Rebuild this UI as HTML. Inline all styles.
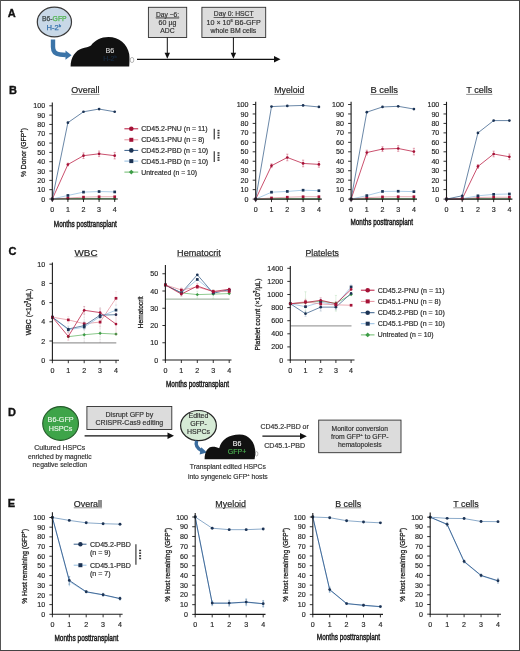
<!DOCTYPE html><html><head><meta charset="utf-8"><style>html,body{margin:0;padding:0;background:#fff;}svg{display:block;will-change:transform;}text{font-family:"Liberation Sans", sans-serif;}</style></head><body>
<svg width="520" height="651" viewBox="0 0 520 651">
<rect x="0" y="0" width="520" height="651" fill="#fff"/>
<text x="7.80" y="17.30" font-size="11" fill="#111" font-weight="bold" stroke="#111" stroke-width="0.35">A</text>
<ellipse cx="54.4" cy="22" rx="17.1" ry="14.8" fill="#c8d8e7" stroke="#3a3a3a" stroke-width="1.2"/>
<text x="54.30" y="21.30" font-size="7.6" fill="#2a2a2a" text-anchor="middle" textLength="24.6" lengthAdjust="spacingAndGlyphs" stroke-width="0.25"><tspan fill="#3c4646" stroke="#3c4646">B6-</tspan><tspan fill="#4fb34f" stroke="#4fb34f">GFP</tspan></text>
<text x="53.80" y="29.70" font-size="7.6" fill="#3572ad" text-anchor="middle" stroke="#3572ad" stroke-width="0.25">H-2<tspan font-size="4.4" dy="-3.2">b</tspan></text>
<path d="M53 39.5 L53 47 Q53 54 60 54.5 L66 55" fill="none" stroke="#3b74a8" stroke-width="4.4"/>
<path d="M65.5 50.5 L71.5 55.2 L65.5 59.8 Z" fill="#3b74a8"/>
<path d="M70.6 66.6 C70.6 57.5 75.5 50.5 82 48.6 C85.5 47.6 88.5 47.2 91 45.6 C95 40 101 37 108.5 37 C119 37 127.5 44 129.2 54 C129.7 58 129.5 62 129.2 66.6 Z" fill="#111"/>
<ellipse cx="132" cy="60" rx="1.8" ry="2.6" fill="none" stroke="#888" stroke-width="0.6"/>
<text x="109.80" y="52.60" font-size="7.2" fill="#d0d0d0" stroke="#d0d0d0" stroke-width="0.18" text-anchor="middle" >B6</text>
<text x="110.00" y="61.40" font-size="7" fill="#172a40" stroke="#172a40" stroke-width="0.18" text-anchor="middle" >H-2<tspan font-size="4" dy="-3">b</tspan></text>
<line x1="137.00" y1="59.30" x2="276.00" y2="59.30" stroke="#111" stroke-width="1.2" />
<path d="M274 56 L280.5 59.3 L274 62.6 Z" fill="#111"/>
<rect x="148.4" y="7.3" width="38.3" height="30.2" fill="#dcdcdc" stroke="#2e2e2e" stroke-width="0.9"/>
<text x="167.50" y="16.60" font-size="6.9" fill="#333" stroke="#333" stroke-width="0.18" text-anchor="middle" textLength="23.1" lengthAdjust="spacingAndGlyphs" text-decoration="underline">Day −6:</text>
<text x="167.50" y="25.10" font-size="7.2" fill="#333" stroke="#333" stroke-width="0.18" text-anchor="middle" textLength="17.8" lengthAdjust="spacingAndGlyphs" >60 µg</text>
<text x="167.50" y="33.10" font-size="7.2" fill="#333" stroke="#333" stroke-width="0.18" text-anchor="middle" textLength="14.4" lengthAdjust="spacingAndGlyphs" >ADC</text>
<line x1="167.30" y1="37.50" x2="167.30" y2="54.00" stroke="#111" stroke-width="1" />
<path d="M164.6 52.8 L167.3 58.8 L170 52.8 Z" fill="#111"/>
<rect x="201.9" y="7.3" width="63.8" height="30.2" fill="#dcdcdc" stroke="#2e2e2e" stroke-width="0.9"/>
<text x="233.70" y="16.10" font-size="6.8" fill="#333" stroke="#333" stroke-width="0.18" text-anchor="middle" textLength="39.8" lengthAdjust="spacingAndGlyphs" text-decoration="underline">Day 0: HSCT</text>
<text x="233.60" y="24.90" font-size="7.0" fill="#333" stroke="#333" stroke-width="0.18" text-anchor="middle" textLength="54.2" lengthAdjust="spacingAndGlyphs" >10 × 10<tspan font-size="4" dy="-2.8">6</tspan><tspan dy="2.8"> B6-GFP</tspan></text>
<text x="233.40" y="33.30" font-size="6.6" fill="#333" stroke="#333" stroke-width="0.18" text-anchor="middle" textLength="45.7" lengthAdjust="spacingAndGlyphs" >whole BM cells</text>
<line x1="233.40" y1="37.50" x2="233.40" y2="54.00" stroke="#111" stroke-width="1" />
<path d="M230.7 52.8 L233.4 58.8 L236.1 52.8 Z" fill="#111"/>
<text x="9.00" y="93.80" font-size="11" fill="#111" font-weight="bold" stroke="#111" stroke-width="0.35">B</text>
<text x="85.40" y="93.30" font-size="9.2" fill="#222" stroke="#222" stroke-width="0.18" text-anchor="middle" textLength="28.3" lengthAdjust="spacingAndGlyphs" >Overall</text>
<line x1="71.25" y1="94.40" x2="99.55" y2="94.40" stroke="#444" stroke-width="0.6" />
<polyline points="52.30,199.00 67.90,198.72 83.50,198.72 99.10,198.72 114.70,198.72" fill="none" stroke="#6dbb6d" stroke-width="1.0" stroke-linejoin="round" />
<path d="M52.30 197.31L53.99 199.00L52.30 200.69L50.61 199.00Z" fill="#3d9c46"/>
<path d="M67.90 197.03L69.59 198.72L67.90 200.41L66.21 198.72Z" fill="#3d9c46"/>
<path d="M83.50 197.03L85.19 198.72L83.50 200.41L81.81 198.72Z" fill="#3d9c46"/>
<path d="M99.10 197.03L100.79 198.72L99.10 200.41L97.41 198.72Z" fill="#3d9c46"/>
<path d="M114.70 197.03L116.39 198.72L114.70 200.41L113.01 198.72Z" fill="#3d9c46"/>
<polyline points="52.30,199.00 67.90,198.07 83.50,197.14 99.10,196.76 114.70,196.76" fill="none" stroke="#e3909c" stroke-width="0.75" stroke-linejoin="round" />
<rect x="50.95" y="197.65" width="2.70" height="2.70" fill="#a51237"/>
<rect x="66.55" y="196.72" width="2.70" height="2.70" fill="#a51237"/>
<rect x="82.15" y="195.79" width="2.70" height="2.70" fill="#a51237"/>
<rect x="97.75" y="195.41" width="2.70" height="2.70" fill="#a51237"/>
<rect x="113.35" y="195.41" width="2.70" height="2.70" fill="#a51237"/>
<polyline points="52.30,199.00 67.90,195.46 83.50,192.10 99.10,191.54 114.70,191.92" fill="none" stroke="#93bde0" stroke-width="0.75" stroke-linejoin="round" />
<rect x="50.95" y="197.65" width="2.70" height="2.70" fill="#1c3354"/>
<rect x="66.55" y="194.11" width="2.70" height="2.70" fill="#1c3354"/>
<rect x="82.15" y="190.75" width="2.70" height="2.70" fill="#1c3354"/>
<rect x="97.75" y="190.19" width="2.70" height="2.70" fill="#1c3354"/>
<rect x="113.35" y="190.57" width="2.70" height="2.70" fill="#1c3354"/>
<line x1="67.90" y1="163.12" x2="67.90" y2="165.91" stroke="#b8173d" stroke-width="0.6" stroke-opacity="0.6"/>
<line x1="66.80" y1="163.12" x2="69.00" y2="163.12" stroke="#b8173d" stroke-width="0.6" stroke-opacity="0.6"/>
<line x1="66.80" y1="165.91" x2="69.00" y2="165.91" stroke="#b8173d" stroke-width="0.6" stroke-opacity="0.6"/>
<line x1="83.50" y1="152.87" x2="83.50" y2="158.46" stroke="#b8173d" stroke-width="0.6" stroke-opacity="0.6"/>
<line x1="82.40" y1="152.87" x2="84.60" y2="152.87" stroke="#b8173d" stroke-width="0.6" stroke-opacity="0.6"/>
<line x1="82.40" y1="158.46" x2="84.60" y2="158.46" stroke="#b8173d" stroke-width="0.6" stroke-opacity="0.6"/>
<line x1="99.10" y1="151.00" x2="99.10" y2="156.59" stroke="#b8173d" stroke-width="0.6" stroke-opacity="0.6"/>
<line x1="98.00" y1="151.00" x2="100.20" y2="151.00" stroke="#b8173d" stroke-width="0.6" stroke-opacity="0.6"/>
<line x1="98.00" y1="156.59" x2="100.20" y2="156.59" stroke="#b8173d" stroke-width="0.6" stroke-opacity="0.6"/>
<line x1="114.70" y1="152.40" x2="114.70" y2="158.92" stroke="#b8173d" stroke-width="0.6" stroke-opacity="0.6"/>
<line x1="113.60" y1="152.40" x2="115.80" y2="152.40" stroke="#b8173d" stroke-width="0.6" stroke-opacity="0.6"/>
<line x1="113.60" y1="158.92" x2="115.80" y2="158.92" stroke="#b8173d" stroke-width="0.6" stroke-opacity="0.6"/>
<polyline points="52.30,199.00 67.90,164.52 83.50,155.66 99.10,153.80 114.70,155.66" fill="none" stroke="#b8173d" stroke-width="0.75" stroke-linejoin="round" />
<circle cx="52.30" cy="199.00" r="1.35" fill="#a51237"/>
<circle cx="67.90" cy="164.52" r="1.35" fill="#a51237"/>
<circle cx="83.50" cy="155.66" r="1.35" fill="#a51237"/>
<circle cx="99.10" cy="153.80" r="1.35" fill="#a51237"/>
<circle cx="114.70" cy="155.66" r="1.35" fill="#a51237"/>
<polyline points="52.30,199.00 67.90,122.67 83.50,111.76 99.10,109.06 114.70,111.76" fill="none" stroke="#385f8a" stroke-width="0.75" stroke-linejoin="round" />
<circle cx="52.30" cy="199.00" r="1.35" fill="#1c3354"/>
<circle cx="67.90" cy="122.67" r="1.35" fill="#1c3354"/>
<circle cx="83.50" cy="111.76" r="1.35" fill="#1c3354"/>
<circle cx="99.10" cy="109.06" r="1.35" fill="#1c3354"/>
<circle cx="114.70" cy="111.76" r="1.35" fill="#1c3354"/>
<line x1="49.30" y1="199.00" x2="52.30" y2="199.00" stroke="#1c1c1c" stroke-width="0.9" />
<text x="45.10" y="201.56" font-size="7.1" fill="#2a2a2a" stroke="#2a2a2a" stroke-width="0.18" text-anchor="end" >0</text>
<line x1="49.30" y1="189.68" x2="52.30" y2="189.68" stroke="#1c1c1c" stroke-width="0.9" />
<text x="45.10" y="192.24" font-size="7.1" fill="#2a2a2a" stroke="#2a2a2a" stroke-width="0.18" text-anchor="end" >10</text>
<line x1="49.30" y1="180.36" x2="52.30" y2="180.36" stroke="#1c1c1c" stroke-width="0.9" />
<text x="45.10" y="182.92" font-size="7.1" fill="#2a2a2a" stroke="#2a2a2a" stroke-width="0.18" text-anchor="end" >20</text>
<line x1="49.30" y1="171.04" x2="52.30" y2="171.04" stroke="#1c1c1c" stroke-width="0.9" />
<text x="45.10" y="173.60" font-size="7.1" fill="#2a2a2a" stroke="#2a2a2a" stroke-width="0.18" text-anchor="end" >30</text>
<line x1="49.30" y1="161.72" x2="52.30" y2="161.72" stroke="#1c1c1c" stroke-width="0.9" />
<text x="45.10" y="164.28" font-size="7.1" fill="#2a2a2a" stroke="#2a2a2a" stroke-width="0.18" text-anchor="end" >40</text>
<line x1="49.30" y1="152.40" x2="52.30" y2="152.40" stroke="#1c1c1c" stroke-width="0.9" />
<text x="45.10" y="154.96" font-size="7.1" fill="#2a2a2a" stroke="#2a2a2a" stroke-width="0.18" text-anchor="end" >50</text>
<line x1="49.30" y1="143.08" x2="52.30" y2="143.08" stroke="#1c1c1c" stroke-width="0.9" />
<text x="45.10" y="145.64" font-size="7.1" fill="#2a2a2a" stroke="#2a2a2a" stroke-width="0.18" text-anchor="end" >60</text>
<line x1="49.30" y1="133.76" x2="52.30" y2="133.76" stroke="#1c1c1c" stroke-width="0.9" />
<text x="45.10" y="136.32" font-size="7.1" fill="#2a2a2a" stroke="#2a2a2a" stroke-width="0.18" text-anchor="end" >70</text>
<line x1="49.30" y1="124.44" x2="52.30" y2="124.44" stroke="#1c1c1c" stroke-width="0.9" />
<text x="45.10" y="127.00" font-size="7.1" fill="#2a2a2a" stroke="#2a2a2a" stroke-width="0.18" text-anchor="end" >80</text>
<line x1="49.30" y1="115.12" x2="52.30" y2="115.12" stroke="#1c1c1c" stroke-width="0.9" />
<text x="45.10" y="117.68" font-size="7.1" fill="#2a2a2a" stroke="#2a2a2a" stroke-width="0.18" text-anchor="end" >90</text>
<line x1="49.30" y1="105.80" x2="52.30" y2="105.80" stroke="#1c1c1c" stroke-width="0.9" />
<text x="45.10" y="108.36" font-size="7.1" fill="#2a2a2a" stroke="#2a2a2a" stroke-width="0.18" text-anchor="end" >100</text>
<line x1="52.30" y1="199.00" x2="52.30" y2="202.00" stroke="#1c1c1c" stroke-width="0.9" />
<text x="52.30" y="212.30" font-size="7.1" fill="#2a2a2a" stroke="#2a2a2a" stroke-width="0.18" text-anchor="middle" >0</text>
<line x1="67.90" y1="199.00" x2="67.90" y2="202.00" stroke="#1c1c1c" stroke-width="0.9" />
<text x="67.90" y="212.30" font-size="7.1" fill="#2a2a2a" stroke="#2a2a2a" stroke-width="0.18" text-anchor="middle" >1</text>
<line x1="83.50" y1="199.00" x2="83.50" y2="202.00" stroke="#1c1c1c" stroke-width="0.9" />
<text x="83.50" y="212.30" font-size="7.1" fill="#2a2a2a" stroke="#2a2a2a" stroke-width="0.18" text-anchor="middle" >2</text>
<line x1="99.10" y1="199.00" x2="99.10" y2="202.00" stroke="#1c1c1c" stroke-width="0.9" />
<text x="99.10" y="212.30" font-size="7.1" fill="#2a2a2a" stroke="#2a2a2a" stroke-width="0.18" text-anchor="middle" >3</text>
<line x1="114.70" y1="199.00" x2="114.70" y2="202.00" stroke="#1c1c1c" stroke-width="0.9" />
<text x="114.70" y="212.30" font-size="7.1" fill="#2a2a2a" stroke="#2a2a2a" stroke-width="0.18" text-anchor="middle" >4</text>
<line x1="52.30" y1="102.60" x2="52.30" y2="199.50" stroke="#1c1c1c" stroke-width="1.1" />
<line x1="51.80" y1="199.00" x2="117.80" y2="199.00" stroke="#1c1c1c" stroke-width="1.1" />
<text x="25.80" y="152.50" font-size="7.9" fill="#1e1e1e" text-anchor="middle" textLength="49" lengthAdjust="spacingAndGlyphs" transform="rotate(-90 25.80 152.50)" stroke="#1e1e1e" stroke-width="0.3">% Donor (GFP<tspan font-size="5" dy="-3">+</tspan><tspan dy="3">)</tspan></text>
<text x="85.30" y="226.70" font-size="9.5" fill="#1e1e1e" text-anchor="middle" textLength="63" lengthAdjust="spacingAndGlyphs" stroke="#1e1e1e" stroke-width="0.5">Months posttransplant</text>
<line x1="124.40" y1="128.80" x2="138.20" y2="128.80" stroke="#b8173d" stroke-width="1.0" />
<circle cx="131.30" cy="128.80" r="2.3" fill="#a51237"/>
<text x="141.20" y="131.30" font-size="7.0" fill="#2a2a2a" stroke="#2a2a2a" stroke-width="0.18" textLength="66.4" lengthAdjust="spacingAndGlyphs" >CD45.2-PNU (n = 11)</text>
<line x1="124.40" y1="139.80" x2="138.20" y2="139.80" stroke="#e3909c" stroke-width="1.0" />
<rect x="129.30" y="137.80" width="4.00" height="4.00" fill="#a51237"/>
<text x="141.20" y="142.30" font-size="7.0" fill="#2a2a2a" stroke="#2a2a2a" stroke-width="0.18" textLength="63.2" lengthAdjust="spacingAndGlyphs" >CD45.1-PNU (n = 8)</text>
<line x1="124.40" y1="150.40" x2="138.20" y2="150.40" stroke="#385f8a" stroke-width="1.0" />
<circle cx="131.30" cy="150.40" r="2.3" fill="#1c3354"/>
<text x="141.20" y="152.90" font-size="7.0" fill="#2a2a2a" stroke="#2a2a2a" stroke-width="0.18" textLength="67.0" lengthAdjust="spacingAndGlyphs" >CD45.2-PBD (n = 10)</text>
<line x1="124.40" y1="161.10" x2="138.20" y2="161.10" stroke="#93bde0" stroke-width="1.0" />
<rect x="129.30" y="159.10" width="4.00" height="4.00" fill="#1c3354"/>
<text x="141.20" y="163.60" font-size="7.0" fill="#2a2a2a" stroke="#2a2a2a" stroke-width="0.18" textLength="67.0" lengthAdjust="spacingAndGlyphs" >CD45.1-PBD (n = 10)</text>
<line x1="124.40" y1="172.10" x2="138.20" y2="172.10" stroke="#6dbb6d" stroke-width="1.0" />
<path d="M131.30 169.72L133.68 172.10L131.30 174.47L128.93 172.10Z" fill="#3d9c46"/>
<text x="141.20" y="174.60" font-size="7.0" fill="#2a2a2a" stroke="#2a2a2a" stroke-width="0.18" textLength="55.8" lengthAdjust="spacingAndGlyphs" >Untreated (n = 10)</text>
<line x1="214.30" y1="128.80" x2="214.30" y2="139.60" stroke="#555" stroke-width="1.4" />
<rect x="217.50" y="129.85" width="2.0" height="1.5" fill="#333"/>
<rect x="217.50" y="132.25" width="2.0" height="1.5" fill="#333"/>
<rect x="217.50" y="134.65" width="2.0" height="1.5" fill="#333"/>
<rect x="217.50" y="137.05" width="2.0" height="1.5" fill="#333"/>
<line x1="214.30" y1="151.20" x2="214.30" y2="161.90" stroke="#555" stroke-width="1.4" />
<rect x="217.50" y="152.20" width="2.0" height="1.5" fill="#333"/>
<rect x="217.50" y="154.60" width="2.0" height="1.5" fill="#333"/>
<rect x="217.50" y="157.00" width="2.0" height="1.5" fill="#333"/>
<rect x="217.50" y="159.40" width="2.0" height="1.5" fill="#333"/>
<text x="289.30" y="93.30" font-size="9.2" fill="#222" stroke="#222" stroke-width="0.18" text-anchor="middle" textLength="30.1" lengthAdjust="spacingAndGlyphs" >Myeloid</text>
<line x1="274.25" y1="94.40" x2="304.35" y2="94.40" stroke="#444" stroke-width="0.6" />
<polyline points="255.70,199.10 271.50,198.82 287.30,198.82 303.10,198.82 318.90,198.82" fill="none" stroke="#6dbb6d" stroke-width="1.0" stroke-linejoin="round" />
<path d="M255.70 197.41L257.39 199.10L255.70 200.79L254.01 199.10Z" fill="#3d9c46"/>
<path d="M271.50 197.13L273.19 198.82L271.50 200.50L269.81 198.82Z" fill="#3d9c46"/>
<path d="M287.30 197.13L288.99 198.82L287.30 200.50L285.61 198.82Z" fill="#3d9c46"/>
<path d="M303.10 197.13L304.79 198.82L303.10 200.50L301.41 198.82Z" fill="#3d9c46"/>
<path d="M318.90 197.13L320.59 198.82L318.90 200.50L317.21 198.82Z" fill="#3d9c46"/>
<polyline points="255.70,199.10 271.50,197.96 287.30,197.21 303.10,196.73 318.90,196.73" fill="none" stroke="#e3909c" stroke-width="0.75" stroke-linejoin="round" />
<rect x="254.35" y="197.75" width="2.70" height="2.70" fill="#a51237"/>
<rect x="270.15" y="196.61" width="2.70" height="2.70" fill="#a51237"/>
<rect x="285.95" y="195.86" width="2.70" height="2.70" fill="#a51237"/>
<rect x="301.75" y="195.38" width="2.70" height="2.70" fill="#a51237"/>
<rect x="317.55" y="195.38" width="2.70" height="2.70" fill="#a51237"/>
<polyline points="255.70,199.10 271.50,192.19 287.30,191.44 303.10,190.21 318.90,190.68" fill="none" stroke="#93bde0" stroke-width="0.75" stroke-linejoin="round" />
<rect x="254.35" y="197.75" width="2.70" height="2.70" fill="#1c3354"/>
<rect x="270.15" y="190.84" width="2.70" height="2.70" fill="#1c3354"/>
<rect x="285.95" y="190.09" width="2.70" height="2.70" fill="#1c3354"/>
<rect x="301.75" y="188.86" width="2.70" height="2.70" fill="#1c3354"/>
<rect x="317.55" y="189.33" width="2.70" height="2.70" fill="#1c3354"/>
<line x1="271.50" y1="163.81" x2="271.50" y2="167.60" stroke="#b8173d" stroke-width="0.6" stroke-opacity="0.6"/>
<line x1="270.40" y1="163.81" x2="272.60" y2="163.81" stroke="#b8173d" stroke-width="0.6" stroke-opacity="0.6"/>
<line x1="270.40" y1="167.60" x2="272.60" y2="167.60" stroke="#b8173d" stroke-width="0.6" stroke-opacity="0.6"/>
<line x1="287.30" y1="154.16" x2="287.30" y2="160.79" stroke="#b8173d" stroke-width="0.6" stroke-opacity="0.6"/>
<line x1="286.20" y1="154.16" x2="288.40" y2="154.16" stroke="#b8173d" stroke-width="0.6" stroke-opacity="0.6"/>
<line x1="286.20" y1="160.79" x2="288.40" y2="160.79" stroke="#b8173d" stroke-width="0.6" stroke-opacity="0.6"/>
<line x1="303.10" y1="160.12" x2="303.10" y2="166.75" stroke="#b8173d" stroke-width="0.6" stroke-opacity="0.6"/>
<line x1="302.00" y1="160.12" x2="304.20" y2="160.12" stroke="#b8173d" stroke-width="0.6" stroke-opacity="0.6"/>
<line x1="302.00" y1="166.75" x2="304.20" y2="166.75" stroke="#b8173d" stroke-width="0.6" stroke-opacity="0.6"/>
<line x1="318.90" y1="161.54" x2="318.90" y2="167.22" stroke="#b8173d" stroke-width="0.6" stroke-opacity="0.6"/>
<line x1="317.80" y1="161.54" x2="320.00" y2="161.54" stroke="#b8173d" stroke-width="0.6" stroke-opacity="0.6"/>
<line x1="317.80" y1="167.22" x2="320.00" y2="167.22" stroke="#b8173d" stroke-width="0.6" stroke-opacity="0.6"/>
<polyline points="255.70,199.10 271.50,165.71 287.30,157.48 303.10,163.44 318.90,164.38" fill="none" stroke="#b8173d" stroke-width="0.75" stroke-linejoin="round" />
<circle cx="255.70" cy="199.10" r="1.35" fill="#a51237"/>
<circle cx="271.50" cy="165.71" r="1.35" fill="#a51237"/>
<circle cx="287.30" cy="157.48" r="1.35" fill="#a51237"/>
<circle cx="303.10" cy="163.44" r="1.35" fill="#a51237"/>
<circle cx="318.90" cy="164.38" r="1.35" fill="#a51237"/>
<polyline points="255.70,199.10 271.50,106.58 287.30,105.92 303.10,105.45 318.90,106.96" fill="none" stroke="#385f8a" stroke-width="0.75" stroke-linejoin="round" />
<circle cx="255.70" cy="199.10" r="1.35" fill="#1c3354"/>
<circle cx="271.50" cy="106.58" r="1.35" fill="#1c3354"/>
<circle cx="287.30" cy="105.92" r="1.35" fill="#1c3354"/>
<circle cx="303.10" cy="105.45" r="1.35" fill="#1c3354"/>
<circle cx="318.90" cy="106.96" r="1.35" fill="#1c3354"/>
<line x1="252.70" y1="199.10" x2="255.70" y2="199.10" stroke="#1c1c1c" stroke-width="0.9" />
<text x="248.50" y="201.66" font-size="7.1" fill="#2a2a2a" stroke="#2a2a2a" stroke-width="0.18" text-anchor="end" >0</text>
<line x1="252.70" y1="189.64" x2="255.70" y2="189.64" stroke="#1c1c1c" stroke-width="0.9" />
<text x="248.50" y="192.20" font-size="7.1" fill="#2a2a2a" stroke="#2a2a2a" stroke-width="0.18" text-anchor="end" >10</text>
<line x1="252.70" y1="180.18" x2="255.70" y2="180.18" stroke="#1c1c1c" stroke-width="0.9" />
<text x="248.50" y="182.74" font-size="7.1" fill="#2a2a2a" stroke="#2a2a2a" stroke-width="0.18" text-anchor="end" >20</text>
<line x1="252.70" y1="170.72" x2="255.70" y2="170.72" stroke="#1c1c1c" stroke-width="0.9" />
<text x="248.50" y="173.28" font-size="7.1" fill="#2a2a2a" stroke="#2a2a2a" stroke-width="0.18" text-anchor="end" >30</text>
<line x1="252.70" y1="161.26" x2="255.70" y2="161.26" stroke="#1c1c1c" stroke-width="0.9" />
<text x="248.50" y="163.82" font-size="7.1" fill="#2a2a2a" stroke="#2a2a2a" stroke-width="0.18" text-anchor="end" >40</text>
<line x1="252.70" y1="151.80" x2="255.70" y2="151.80" stroke="#1c1c1c" stroke-width="0.9" />
<text x="248.50" y="154.36" font-size="7.1" fill="#2a2a2a" stroke="#2a2a2a" stroke-width="0.18" text-anchor="end" >50</text>
<line x1="252.70" y1="142.34" x2="255.70" y2="142.34" stroke="#1c1c1c" stroke-width="0.9" />
<text x="248.50" y="144.90" font-size="7.1" fill="#2a2a2a" stroke="#2a2a2a" stroke-width="0.18" text-anchor="end" >60</text>
<line x1="252.70" y1="132.88" x2="255.70" y2="132.88" stroke="#1c1c1c" stroke-width="0.9" />
<text x="248.50" y="135.44" font-size="7.1" fill="#2a2a2a" stroke="#2a2a2a" stroke-width="0.18" text-anchor="end" >70</text>
<line x1="252.70" y1="123.42" x2="255.70" y2="123.42" stroke="#1c1c1c" stroke-width="0.9" />
<text x="248.50" y="125.98" font-size="7.1" fill="#2a2a2a" stroke="#2a2a2a" stroke-width="0.18" text-anchor="end" >80</text>
<line x1="252.70" y1="113.96" x2="255.70" y2="113.96" stroke="#1c1c1c" stroke-width="0.9" />
<text x="248.50" y="116.52" font-size="7.1" fill="#2a2a2a" stroke="#2a2a2a" stroke-width="0.18" text-anchor="end" >90</text>
<line x1="252.70" y1="104.50" x2="255.70" y2="104.50" stroke="#1c1c1c" stroke-width="0.9" />
<text x="248.50" y="107.06" font-size="7.1" fill="#2a2a2a" stroke="#2a2a2a" stroke-width="0.18" text-anchor="end" >100</text>
<line x1="255.70" y1="199.10" x2="255.70" y2="202.10" stroke="#1c1c1c" stroke-width="0.9" />
<text x="255.70" y="212.30" font-size="7.1" fill="#2a2a2a" stroke="#2a2a2a" stroke-width="0.18" text-anchor="middle" >0</text>
<line x1="271.50" y1="199.10" x2="271.50" y2="202.10" stroke="#1c1c1c" stroke-width="0.9" />
<text x="271.50" y="212.30" font-size="7.1" fill="#2a2a2a" stroke="#2a2a2a" stroke-width="0.18" text-anchor="middle" >1</text>
<line x1="287.30" y1="199.10" x2="287.30" y2="202.10" stroke="#1c1c1c" stroke-width="0.9" />
<text x="287.30" y="212.30" font-size="7.1" fill="#2a2a2a" stroke="#2a2a2a" stroke-width="0.18" text-anchor="middle" >2</text>
<line x1="303.10" y1="199.10" x2="303.10" y2="202.10" stroke="#1c1c1c" stroke-width="0.9" />
<text x="303.10" y="212.30" font-size="7.1" fill="#2a2a2a" stroke="#2a2a2a" stroke-width="0.18" text-anchor="middle" >3</text>
<line x1="318.90" y1="199.10" x2="318.90" y2="202.10" stroke="#1c1c1c" stroke-width="0.9" />
<text x="318.90" y="212.30" font-size="7.1" fill="#2a2a2a" stroke="#2a2a2a" stroke-width="0.18" text-anchor="middle" >4</text>
<line x1="255.70" y1="101.80" x2="255.70" y2="199.60" stroke="#1c1c1c" stroke-width="1.1" />
<line x1="255.20" y1="199.10" x2="321.80" y2="199.10" stroke="#1c1c1c" stroke-width="1.1" />
<text x="384.20" y="93.30" font-size="9.2" fill="#222" stroke="#222" stroke-width="0.18" text-anchor="middle" textLength="27.6" lengthAdjust="spacingAndGlyphs" >B cells</text>
<line x1="370.40" y1="94.40" x2="398.00" y2="94.40" stroke="#444" stroke-width="0.6" />
<polyline points="351.10,199.10 366.80,198.82 382.50,198.82 398.20,198.82 413.90,198.82" fill="none" stroke="#6dbb6d" stroke-width="1.0" stroke-linejoin="round" />
<path d="M351.10 197.41L352.79 199.10L351.10 200.79L349.41 199.10Z" fill="#3d9c46"/>
<path d="M366.80 197.13L368.49 198.82L366.80 200.50L365.11 198.82Z" fill="#3d9c46"/>
<path d="M382.50 197.13L384.19 198.82L382.50 200.50L380.81 198.82Z" fill="#3d9c46"/>
<path d="M398.20 197.13L399.89 198.82L398.20 200.50L396.51 198.82Z" fill="#3d9c46"/>
<path d="M413.90 197.13L415.59 198.82L413.90 200.50L412.21 198.82Z" fill="#3d9c46"/>
<polyline points="351.10,199.10 366.80,197.68 382.50,196.92 398.20,196.73 413.90,196.73" fill="none" stroke="#e3909c" stroke-width="0.75" stroke-linejoin="round" />
<rect x="349.75" y="197.75" width="2.70" height="2.70" fill="#a51237"/>
<rect x="365.45" y="196.33" width="2.70" height="2.70" fill="#a51237"/>
<rect x="381.15" y="195.57" width="2.70" height="2.70" fill="#a51237"/>
<rect x="396.85" y="195.38" width="2.70" height="2.70" fill="#a51237"/>
<rect x="412.55" y="195.38" width="2.70" height="2.70" fill="#a51237"/>
<polyline points="351.10,199.10 366.80,195.60 382.50,191.44 398.20,191.25 413.90,191.63" fill="none" stroke="#93bde0" stroke-width="0.75" stroke-linejoin="round" />
<rect x="349.75" y="197.75" width="2.70" height="2.70" fill="#1c3354"/>
<rect x="365.45" y="194.25" width="2.70" height="2.70" fill="#1c3354"/>
<rect x="381.15" y="190.09" width="2.70" height="2.70" fill="#1c3354"/>
<rect x="396.85" y="189.90" width="2.70" height="2.70" fill="#1c3354"/>
<rect x="412.55" y="190.28" width="2.70" height="2.70" fill="#1c3354"/>
<line x1="366.80" y1="150.19" x2="366.80" y2="154.92" stroke="#b8173d" stroke-width="0.6" stroke-opacity="0.6"/>
<line x1="365.70" y1="150.19" x2="367.90" y2="150.19" stroke="#b8173d" stroke-width="0.6" stroke-opacity="0.6"/>
<line x1="365.70" y1="154.92" x2="367.90" y2="154.92" stroke="#b8173d" stroke-width="0.6" stroke-opacity="0.6"/>
<line x1="382.50" y1="146.69" x2="382.50" y2="151.42" stroke="#b8173d" stroke-width="0.6" stroke-opacity="0.6"/>
<line x1="381.40" y1="146.69" x2="383.60" y2="146.69" stroke="#b8173d" stroke-width="0.6" stroke-opacity="0.6"/>
<line x1="381.40" y1="151.42" x2="383.60" y2="151.42" stroke="#b8173d" stroke-width="0.6" stroke-opacity="0.6"/>
<line x1="398.20" y1="145.65" x2="398.20" y2="151.33" stroke="#b8173d" stroke-width="0.6" stroke-opacity="0.6"/>
<line x1="397.10" y1="145.65" x2="399.30" y2="145.65" stroke="#b8173d" stroke-width="0.6" stroke-opacity="0.6"/>
<line x1="397.10" y1="151.33" x2="399.30" y2="151.33" stroke="#b8173d" stroke-width="0.6" stroke-opacity="0.6"/>
<line x1="413.90" y1="148.30" x2="413.90" y2="154.92" stroke="#b8173d" stroke-width="0.6" stroke-opacity="0.6"/>
<line x1="412.80" y1="148.30" x2="415.00" y2="148.30" stroke="#b8173d" stroke-width="0.6" stroke-opacity="0.6"/>
<line x1="412.80" y1="154.92" x2="415.00" y2="154.92" stroke="#b8173d" stroke-width="0.6" stroke-opacity="0.6"/>
<polyline points="351.10,199.10 366.80,152.56 382.50,149.06 398.20,148.49 413.90,151.61" fill="none" stroke="#b8173d" stroke-width="0.75" stroke-linejoin="round" />
<circle cx="351.10" cy="199.10" r="1.35" fill="#a51237"/>
<circle cx="366.80" cy="152.56" r="1.35" fill="#a51237"/>
<circle cx="382.50" cy="149.06" r="1.35" fill="#a51237"/>
<circle cx="398.20" cy="148.49" r="1.35" fill="#a51237"/>
<circle cx="413.90" cy="151.61" r="1.35" fill="#a51237"/>
<polyline points="351.10,199.10 366.80,112.16 382.50,106.96 398.20,106.30 413.90,109.04" fill="none" stroke="#385f8a" stroke-width="0.75" stroke-linejoin="round" />
<circle cx="351.10" cy="199.10" r="1.35" fill="#1c3354"/>
<circle cx="366.80" cy="112.16" r="1.35" fill="#1c3354"/>
<circle cx="382.50" cy="106.96" r="1.35" fill="#1c3354"/>
<circle cx="398.20" cy="106.30" r="1.35" fill="#1c3354"/>
<circle cx="413.90" cy="109.04" r="1.35" fill="#1c3354"/>
<line x1="348.10" y1="199.10" x2="351.10" y2="199.10" stroke="#1c1c1c" stroke-width="0.9" />
<text x="343.90" y="201.66" font-size="7.1" fill="#2a2a2a" stroke="#2a2a2a" stroke-width="0.18" text-anchor="end" >0</text>
<line x1="348.10" y1="189.64" x2="351.10" y2="189.64" stroke="#1c1c1c" stroke-width="0.9" />
<text x="343.90" y="192.20" font-size="7.1" fill="#2a2a2a" stroke="#2a2a2a" stroke-width="0.18" text-anchor="end" >10</text>
<line x1="348.10" y1="180.18" x2="351.10" y2="180.18" stroke="#1c1c1c" stroke-width="0.9" />
<text x="343.90" y="182.74" font-size="7.1" fill="#2a2a2a" stroke="#2a2a2a" stroke-width="0.18" text-anchor="end" >20</text>
<line x1="348.10" y1="170.72" x2="351.10" y2="170.72" stroke="#1c1c1c" stroke-width="0.9" />
<text x="343.90" y="173.28" font-size="7.1" fill="#2a2a2a" stroke="#2a2a2a" stroke-width="0.18" text-anchor="end" >30</text>
<line x1="348.10" y1="161.26" x2="351.10" y2="161.26" stroke="#1c1c1c" stroke-width="0.9" />
<text x="343.90" y="163.82" font-size="7.1" fill="#2a2a2a" stroke="#2a2a2a" stroke-width="0.18" text-anchor="end" >40</text>
<line x1="348.10" y1="151.80" x2="351.10" y2="151.80" stroke="#1c1c1c" stroke-width="0.9" />
<text x="343.90" y="154.36" font-size="7.1" fill="#2a2a2a" stroke="#2a2a2a" stroke-width="0.18" text-anchor="end" >50</text>
<line x1="348.10" y1="142.34" x2="351.10" y2="142.34" stroke="#1c1c1c" stroke-width="0.9" />
<text x="343.90" y="144.90" font-size="7.1" fill="#2a2a2a" stroke="#2a2a2a" stroke-width="0.18" text-anchor="end" >60</text>
<line x1="348.10" y1="132.88" x2="351.10" y2="132.88" stroke="#1c1c1c" stroke-width="0.9" />
<text x="343.90" y="135.44" font-size="7.1" fill="#2a2a2a" stroke="#2a2a2a" stroke-width="0.18" text-anchor="end" >70</text>
<line x1="348.10" y1="123.42" x2="351.10" y2="123.42" stroke="#1c1c1c" stroke-width="0.9" />
<text x="343.90" y="125.98" font-size="7.1" fill="#2a2a2a" stroke="#2a2a2a" stroke-width="0.18" text-anchor="end" >80</text>
<line x1="348.10" y1="113.96" x2="351.10" y2="113.96" stroke="#1c1c1c" stroke-width="0.9" />
<text x="343.90" y="116.52" font-size="7.1" fill="#2a2a2a" stroke="#2a2a2a" stroke-width="0.18" text-anchor="end" >90</text>
<line x1="348.10" y1="104.50" x2="351.10" y2="104.50" stroke="#1c1c1c" stroke-width="0.9" />
<text x="343.90" y="107.06" font-size="7.1" fill="#2a2a2a" stroke="#2a2a2a" stroke-width="0.18" text-anchor="end" >100</text>
<line x1="351.10" y1="199.10" x2="351.10" y2="202.10" stroke="#1c1c1c" stroke-width="0.9" />
<text x="351.10" y="212.30" font-size="7.1" fill="#2a2a2a" stroke="#2a2a2a" stroke-width="0.18" text-anchor="middle" >0</text>
<line x1="366.80" y1="199.10" x2="366.80" y2="202.10" stroke="#1c1c1c" stroke-width="0.9" />
<text x="366.80" y="212.30" font-size="7.1" fill="#2a2a2a" stroke="#2a2a2a" stroke-width="0.18" text-anchor="middle" >1</text>
<line x1="382.50" y1="199.10" x2="382.50" y2="202.10" stroke="#1c1c1c" stroke-width="0.9" />
<text x="382.50" y="212.30" font-size="7.1" fill="#2a2a2a" stroke="#2a2a2a" stroke-width="0.18" text-anchor="middle" >2</text>
<line x1="398.20" y1="199.10" x2="398.20" y2="202.10" stroke="#1c1c1c" stroke-width="0.9" />
<text x="398.20" y="212.30" font-size="7.1" fill="#2a2a2a" stroke="#2a2a2a" stroke-width="0.18" text-anchor="middle" >3</text>
<line x1="413.90" y1="199.10" x2="413.90" y2="202.10" stroke="#1c1c1c" stroke-width="0.9" />
<text x="413.90" y="212.30" font-size="7.1" fill="#2a2a2a" stroke="#2a2a2a" stroke-width="0.18" text-anchor="middle" >4</text>
<line x1="351.10" y1="101.80" x2="351.10" y2="199.60" stroke="#1c1c1c" stroke-width="1.1" />
<line x1="350.60" y1="199.10" x2="417.00" y2="199.10" stroke="#1c1c1c" stroke-width="1.1" />
<text x="381.80" y="225.00" font-size="9.5" fill="#1e1e1e" text-anchor="middle" textLength="62.6" lengthAdjust="spacingAndGlyphs" stroke="#1e1e1e" stroke-width="0.5">Months posttransplant</text>
<text x="479.30" y="93.30" font-size="9.2" fill="#222" stroke="#222" stroke-width="0.18" text-anchor="middle" textLength="26.2" lengthAdjust="spacingAndGlyphs" >T cells</text>
<line x1="466.20" y1="94.40" x2="492.40" y2="94.40" stroke="#444" stroke-width="0.6" />
<polyline points="446.50,199.10 462.22,198.82 477.94,198.82 493.66,198.82 509.38,198.82" fill="none" stroke="#6dbb6d" stroke-width="1.0" stroke-linejoin="round" />
<path d="M446.50 197.41L448.19 199.10L446.50 200.79L444.81 199.10Z" fill="#3d9c46"/>
<path d="M462.22 197.13L463.91 198.82L462.22 200.50L460.53 198.82Z" fill="#3d9c46"/>
<path d="M477.94 197.13L479.63 198.82L477.94 200.50L476.25 198.82Z" fill="#3d9c46"/>
<path d="M493.66 197.13L495.35 198.82L493.66 200.50L491.97 198.82Z" fill="#3d9c46"/>
<path d="M509.38 197.13L511.07 198.82L509.38 200.50L507.69 198.82Z" fill="#3d9c46"/>
<polyline points="446.50,199.10 462.22,198.91 477.94,197.49 493.66,197.21 509.38,197.21" fill="none" stroke="#e3909c" stroke-width="0.75" stroke-linejoin="round" />
<rect x="445.15" y="197.75" width="2.70" height="2.70" fill="#a51237"/>
<rect x="460.87" y="197.56" width="2.70" height="2.70" fill="#a51237"/>
<rect x="476.59" y="196.14" width="2.70" height="2.70" fill="#a51237"/>
<rect x="492.31" y="195.86" width="2.70" height="2.70" fill="#a51237"/>
<rect x="508.03" y="195.86" width="2.70" height="2.70" fill="#a51237"/>
<polyline points="446.50,199.10 462.22,198.63 477.94,195.79 493.66,194.37 509.38,193.99" fill="none" stroke="#93bde0" stroke-width="0.75" stroke-linejoin="round" />
<rect x="445.15" y="197.75" width="2.70" height="2.70" fill="#1c3354"/>
<rect x="460.87" y="197.28" width="2.70" height="2.70" fill="#1c3354"/>
<rect x="476.59" y="194.44" width="2.70" height="2.70" fill="#1c3354"/>
<rect x="492.31" y="193.02" width="2.70" height="2.70" fill="#1c3354"/>
<rect x="508.03" y="192.64" width="2.70" height="2.70" fill="#1c3354"/>
<line x1="477.94" y1="164.57" x2="477.94" y2="168.35" stroke="#b8173d" stroke-width="0.6" stroke-opacity="0.6"/>
<line x1="476.84" y1="164.57" x2="479.04" y2="164.57" stroke="#b8173d" stroke-width="0.6" stroke-opacity="0.6"/>
<line x1="476.84" y1="168.35" x2="479.04" y2="168.35" stroke="#b8173d" stroke-width="0.6" stroke-opacity="0.6"/>
<line x1="493.66" y1="151.14" x2="493.66" y2="156.81" stroke="#b8173d" stroke-width="0.6" stroke-opacity="0.6"/>
<line x1="492.56" y1="151.14" x2="494.76" y2="151.14" stroke="#b8173d" stroke-width="0.6" stroke-opacity="0.6"/>
<line x1="492.56" y1="156.81" x2="494.76" y2="156.81" stroke="#b8173d" stroke-width="0.6" stroke-opacity="0.6"/>
<line x1="509.38" y1="153.98" x2="509.38" y2="159.65" stroke="#b8173d" stroke-width="0.6" stroke-opacity="0.6"/>
<line x1="508.28" y1="153.98" x2="510.48" y2="153.98" stroke="#b8173d" stroke-width="0.6" stroke-opacity="0.6"/>
<line x1="508.28" y1="159.65" x2="510.48" y2="159.65" stroke="#b8173d" stroke-width="0.6" stroke-opacity="0.6"/>
<polyline points="446.50,199.10 462.22,198.82 477.94,166.46 493.66,153.98 509.38,156.81" fill="none" stroke="#b8173d" stroke-width="0.75" stroke-linejoin="round" />
<circle cx="446.50" cy="199.10" r="1.35" fill="#a51237"/>
<circle cx="462.22" cy="198.82" r="1.35" fill="#a51237"/>
<circle cx="477.94" cy="166.46" r="1.35" fill="#a51237"/>
<circle cx="493.66" cy="153.98" r="1.35" fill="#a51237"/>
<circle cx="509.38" cy="156.81" r="1.35" fill="#a51237"/>
<polyline points="446.50,199.10 462.22,195.79 477.94,132.88 493.66,120.58 509.38,120.58" fill="none" stroke="#385f8a" stroke-width="0.75" stroke-linejoin="round" />
<circle cx="446.50" cy="199.10" r="1.35" fill="#1c3354"/>
<circle cx="462.22" cy="195.79" r="1.35" fill="#1c3354"/>
<circle cx="477.94" cy="132.88" r="1.35" fill="#1c3354"/>
<circle cx="493.66" cy="120.58" r="1.35" fill="#1c3354"/>
<circle cx="509.38" cy="120.58" r="1.35" fill="#1c3354"/>
<line x1="443.50" y1="199.10" x2="446.50" y2="199.10" stroke="#1c1c1c" stroke-width="0.9" />
<text x="439.30" y="201.66" font-size="7.1" fill="#2a2a2a" stroke="#2a2a2a" stroke-width="0.18" text-anchor="end" >0</text>
<line x1="443.50" y1="189.64" x2="446.50" y2="189.64" stroke="#1c1c1c" stroke-width="0.9" />
<text x="439.30" y="192.20" font-size="7.1" fill="#2a2a2a" stroke="#2a2a2a" stroke-width="0.18" text-anchor="end" >10</text>
<line x1="443.50" y1="180.18" x2="446.50" y2="180.18" stroke="#1c1c1c" stroke-width="0.9" />
<text x="439.30" y="182.74" font-size="7.1" fill="#2a2a2a" stroke="#2a2a2a" stroke-width="0.18" text-anchor="end" >20</text>
<line x1="443.50" y1="170.72" x2="446.50" y2="170.72" stroke="#1c1c1c" stroke-width="0.9" />
<text x="439.30" y="173.28" font-size="7.1" fill="#2a2a2a" stroke="#2a2a2a" stroke-width="0.18" text-anchor="end" >30</text>
<line x1="443.50" y1="161.26" x2="446.50" y2="161.26" stroke="#1c1c1c" stroke-width="0.9" />
<text x="439.30" y="163.82" font-size="7.1" fill="#2a2a2a" stroke="#2a2a2a" stroke-width="0.18" text-anchor="end" >40</text>
<line x1="443.50" y1="151.80" x2="446.50" y2="151.80" stroke="#1c1c1c" stroke-width="0.9" />
<text x="439.30" y="154.36" font-size="7.1" fill="#2a2a2a" stroke="#2a2a2a" stroke-width="0.18" text-anchor="end" >50</text>
<line x1="443.50" y1="142.34" x2="446.50" y2="142.34" stroke="#1c1c1c" stroke-width="0.9" />
<text x="439.30" y="144.90" font-size="7.1" fill="#2a2a2a" stroke="#2a2a2a" stroke-width="0.18" text-anchor="end" >60</text>
<line x1="443.50" y1="132.88" x2="446.50" y2="132.88" stroke="#1c1c1c" stroke-width="0.9" />
<text x="439.30" y="135.44" font-size="7.1" fill="#2a2a2a" stroke="#2a2a2a" stroke-width="0.18" text-anchor="end" >70</text>
<line x1="443.50" y1="123.42" x2="446.50" y2="123.42" stroke="#1c1c1c" stroke-width="0.9" />
<text x="439.30" y="125.98" font-size="7.1" fill="#2a2a2a" stroke="#2a2a2a" stroke-width="0.18" text-anchor="end" >80</text>
<line x1="443.50" y1="113.96" x2="446.50" y2="113.96" stroke="#1c1c1c" stroke-width="0.9" />
<text x="439.30" y="116.52" font-size="7.1" fill="#2a2a2a" stroke="#2a2a2a" stroke-width="0.18" text-anchor="end" >90</text>
<line x1="443.50" y1="104.50" x2="446.50" y2="104.50" stroke="#1c1c1c" stroke-width="0.9" />
<text x="439.30" y="107.06" font-size="7.1" fill="#2a2a2a" stroke="#2a2a2a" stroke-width="0.18" text-anchor="end" >100</text>
<line x1="446.50" y1="199.10" x2="446.50" y2="202.10" stroke="#1c1c1c" stroke-width="0.9" />
<text x="446.50" y="212.30" font-size="7.1" fill="#2a2a2a" stroke="#2a2a2a" stroke-width="0.18" text-anchor="middle" >0</text>
<line x1="462.22" y1="199.10" x2="462.22" y2="202.10" stroke="#1c1c1c" stroke-width="0.9" />
<text x="462.22" y="212.30" font-size="7.1" fill="#2a2a2a" stroke="#2a2a2a" stroke-width="0.18" text-anchor="middle" >1</text>
<line x1="477.94" y1="199.10" x2="477.94" y2="202.10" stroke="#1c1c1c" stroke-width="0.9" />
<text x="477.94" y="212.30" font-size="7.1" fill="#2a2a2a" stroke="#2a2a2a" stroke-width="0.18" text-anchor="middle" >2</text>
<line x1="493.66" y1="199.10" x2="493.66" y2="202.10" stroke="#1c1c1c" stroke-width="0.9" />
<text x="493.66" y="212.30" font-size="7.1" fill="#2a2a2a" stroke="#2a2a2a" stroke-width="0.18" text-anchor="middle" >3</text>
<line x1="509.38" y1="199.10" x2="509.38" y2="202.10" stroke="#1c1c1c" stroke-width="0.9" />
<text x="509.38" y="212.30" font-size="7.1" fill="#2a2a2a" stroke="#2a2a2a" stroke-width="0.18" text-anchor="middle" >4</text>
<line x1="446.50" y1="101.80" x2="446.50" y2="199.60" stroke="#1c1c1c" stroke-width="1.1" />
<line x1="446.00" y1="199.10" x2="512.40" y2="199.10" stroke="#1c1c1c" stroke-width="1.1" />
<text x="8.50" y="255.00" font-size="11" fill="#111" font-weight="bold" stroke="#111" stroke-width="0.35">C</text>
<text x="86.00" y="255.60" font-size="9.2" fill="#222" stroke="#222" stroke-width="0.18" text-anchor="middle" textLength="23.0" lengthAdjust="spacingAndGlyphs" >WBC</text>
<line x1="74.50" y1="256.70" x2="97.50" y2="256.70" stroke="#444" stroke-width="0.6" />
<line x1="52.40" y1="342.90" x2="116.30" y2="342.90" stroke="#9a9a9a" stroke-width="1.2" />
<line x1="84.20" y1="306.00" x2="84.20" y2="343.00" stroke="#6a5a60" stroke-width="0.6" stroke-opacity="0.45" stroke-dasharray="1 0.6"/>
<line x1="100.10" y1="307.00" x2="100.10" y2="343.00" stroke="#6a5a60" stroke-width="0.6" stroke-opacity="0.45" stroke-dasharray="1 0.6"/>
<polyline points="68.30,336.68 84.20,334.76 100.10,333.32 116.00,334.09" fill="none" stroke="#6dbb6d" stroke-width="0.8" stroke-linejoin="round" />
<path d="M68.30 334.99L69.99 336.68L68.30 338.37L66.61 336.68Z" fill="#3d9c46"/>
<path d="M84.20 333.07L85.89 334.76L84.20 336.45L82.51 334.76Z" fill="#3d9c46"/>
<path d="M100.10 331.63L101.79 333.32L100.10 335.01L98.41 333.32Z" fill="#3d9c46"/>
<path d="M116.00 332.40L117.69 334.09L116.00 335.78L114.31 334.09Z" fill="#3d9c46"/>
<line x1="68.30" y1="316.52" x2="68.30" y2="323.24" stroke="#e3909c" stroke-width="0.6" stroke-opacity="0.3"/>
<line x1="67.20" y1="316.52" x2="69.40" y2="316.52" stroke="#e3909c" stroke-width="0.6" stroke-opacity="0.3"/>
<line x1="67.20" y1="323.24" x2="69.40" y2="323.24" stroke="#e3909c" stroke-width="0.6" stroke-opacity="0.3"/>
<line x1="100.10" y1="317.29" x2="100.10" y2="326.89" stroke="#e3909c" stroke-width="0.6" stroke-opacity="0.3"/>
<line x1="99.00" y1="317.29" x2="101.20" y2="317.29" stroke="#e3909c" stroke-width="0.6" stroke-opacity="0.3"/>
<line x1="99.00" y1="326.89" x2="101.20" y2="326.89" stroke="#e3909c" stroke-width="0.6" stroke-opacity="0.3"/>
<line x1="116.00" y1="291.56" x2="116.00" y2="305.00" stroke="#e3909c" stroke-width="0.6" stroke-opacity="0.3"/>
<line x1="114.90" y1="291.56" x2="117.10" y2="291.56" stroke="#e3909c" stroke-width="0.6" stroke-opacity="0.3"/>
<line x1="114.90" y1="305.00" x2="117.10" y2="305.00" stroke="#e3909c" stroke-width="0.6" stroke-opacity="0.3"/>
<polyline points="52.40,317.19 68.30,319.88 84.20,323.72 100.10,322.09 116.00,298.28" fill="none" stroke="#e3909c" stroke-width="0.75" stroke-linejoin="round" />
<rect x="51.05" y="315.84" width="2.70" height="2.70" fill="#a51237"/>
<rect x="66.95" y="318.53" width="2.70" height="2.70" fill="#a51237"/>
<rect x="82.85" y="322.37" width="2.70" height="2.70" fill="#a51237"/>
<rect x="98.75" y="320.74" width="2.70" height="2.70" fill="#a51237"/>
<rect x="114.65" y="296.93" width="2.70" height="2.70" fill="#a51237"/>
<line x1="116.00" y1="305.29" x2="116.00" y2="314.89" stroke="#93bde0" stroke-width="0.6" stroke-opacity="0.3"/>
<line x1="114.90" y1="305.29" x2="117.10" y2="305.29" stroke="#93bde0" stroke-width="0.6" stroke-opacity="0.3"/>
<line x1="114.90" y1="314.89" x2="117.10" y2="314.89" stroke="#93bde0" stroke-width="0.6" stroke-opacity="0.3"/>
<polyline points="52.40,317.19 68.30,329.77 84.20,327.08 100.10,316.71 116.00,310.09" fill="none" stroke="#93bde0" stroke-width="0.75" stroke-linejoin="round" />
<rect x="51.05" y="315.84" width="2.70" height="2.70" fill="#1c3354"/>
<rect x="66.95" y="328.42" width="2.70" height="2.70" fill="#1c3354"/>
<rect x="82.85" y="325.73" width="2.70" height="2.70" fill="#1c3354"/>
<rect x="98.75" y="315.36" width="2.70" height="2.70" fill="#1c3354"/>
<rect x="114.65" y="308.74" width="2.70" height="2.70" fill="#1c3354"/>
<line x1="68.30" y1="326.12" x2="68.30" y2="331.88" stroke="#385f8a" stroke-width="0.6" stroke-opacity="0.3"/>
<line x1="67.20" y1="326.12" x2="69.40" y2="326.12" stroke="#385f8a" stroke-width="0.6" stroke-opacity="0.3"/>
<line x1="67.20" y1="331.88" x2="69.40" y2="331.88" stroke="#385f8a" stroke-width="0.6" stroke-opacity="0.3"/>
<line x1="84.20" y1="321.80" x2="84.20" y2="329.48" stroke="#385f8a" stroke-width="0.6" stroke-opacity="0.3"/>
<line x1="83.10" y1="321.80" x2="85.30" y2="321.80" stroke="#385f8a" stroke-width="0.6" stroke-opacity="0.3"/>
<line x1="83.10" y1="329.48" x2="85.30" y2="329.48" stroke="#385f8a" stroke-width="0.6" stroke-opacity="0.3"/>
<line x1="100.10" y1="312.30" x2="100.10" y2="318.06" stroke="#385f8a" stroke-width="0.6" stroke-opacity="0.3"/>
<line x1="99.00" y1="312.30" x2="101.20" y2="312.30" stroke="#385f8a" stroke-width="0.6" stroke-opacity="0.3"/>
<line x1="99.00" y1="318.06" x2="101.20" y2="318.06" stroke="#385f8a" stroke-width="0.6" stroke-opacity="0.3"/>
<polyline points="52.40,317.19 68.30,329.00 84.20,325.64 100.10,315.18 116.00,314.70" fill="none" stroke="#385f8a" stroke-width="0.75" stroke-linejoin="round" />
<circle cx="52.40" cy="317.19" r="1.35" fill="#1c3354"/>
<circle cx="68.30" cy="329.00" r="1.35" fill="#1c3354"/>
<circle cx="84.20" cy="325.64" r="1.35" fill="#1c3354"/>
<circle cx="100.10" cy="315.18" r="1.35" fill="#1c3354"/>
<circle cx="116.00" cy="314.70" r="1.35" fill="#1c3354"/>
<line x1="68.30" y1="332.55" x2="68.30" y2="340.23" stroke="#b8173d" stroke-width="0.6" stroke-opacity="0.3"/>
<line x1="67.20" y1="332.55" x2="69.40" y2="332.55" stroke="#b8173d" stroke-width="0.6" stroke-opacity="0.3"/>
<line x1="67.20" y1="340.23" x2="69.40" y2="340.23" stroke="#b8173d" stroke-width="0.6" stroke-opacity="0.3"/>
<line x1="84.20" y1="306.44" x2="84.20" y2="314.12" stroke="#b8173d" stroke-width="0.6" stroke-opacity="0.3"/>
<line x1="83.10" y1="306.44" x2="85.30" y2="306.44" stroke="#b8173d" stroke-width="0.6" stroke-opacity="0.3"/>
<line x1="83.10" y1="314.12" x2="85.30" y2="314.12" stroke="#b8173d" stroke-width="0.6" stroke-opacity="0.3"/>
<line x1="100.10" y1="308.74" x2="100.10" y2="316.42" stroke="#b8173d" stroke-width="0.6" stroke-opacity="0.3"/>
<line x1="99.00" y1="308.74" x2="101.20" y2="308.74" stroke="#b8173d" stroke-width="0.6" stroke-opacity="0.3"/>
<line x1="99.00" y1="316.42" x2="101.20" y2="316.42" stroke="#b8173d" stroke-width="0.6" stroke-opacity="0.3"/>
<line x1="116.00" y1="313.54" x2="116.00" y2="334.66" stroke="#b8173d" stroke-width="0.6" stroke-opacity="0.3"/>
<line x1="114.90" y1="313.54" x2="117.10" y2="313.54" stroke="#b8173d" stroke-width="0.6" stroke-opacity="0.3"/>
<line x1="114.90" y1="334.66" x2="117.10" y2="334.66" stroke="#b8173d" stroke-width="0.6" stroke-opacity="0.3"/>
<polyline points="52.40,317.19 68.30,336.39 84.20,310.28 100.10,312.58 116.00,324.10" fill="none" stroke="#b8173d" stroke-width="0.75" stroke-linejoin="round" />
<circle cx="52.40" cy="317.19" r="1.35" fill="#a51237"/>
<circle cx="68.30" cy="336.39" r="1.35" fill="#a51237"/>
<circle cx="84.20" cy="310.28" r="1.35" fill="#a51237"/>
<circle cx="100.10" cy="312.58" r="1.35" fill="#a51237"/>
<circle cx="116.00" cy="324.10" r="1.35" fill="#a51237"/>
<line x1="49.40" y1="360.20" x2="52.40" y2="360.20" stroke="#1c1c1c" stroke-width="0.9" />
<text x="45.20" y="362.76" font-size="7.1" fill="#2a2a2a" stroke="#2a2a2a" stroke-width="0.18" text-anchor="end" >0</text>
<line x1="49.40" y1="341.00" x2="52.40" y2="341.00" stroke="#1c1c1c" stroke-width="0.9" />
<text x="45.20" y="343.56" font-size="7.1" fill="#2a2a2a" stroke="#2a2a2a" stroke-width="0.18" text-anchor="end" >2</text>
<line x1="49.40" y1="321.80" x2="52.40" y2="321.80" stroke="#1c1c1c" stroke-width="0.9" />
<text x="45.20" y="324.36" font-size="7.1" fill="#2a2a2a" stroke="#2a2a2a" stroke-width="0.18" text-anchor="end" >4</text>
<line x1="49.40" y1="302.60" x2="52.40" y2="302.60" stroke="#1c1c1c" stroke-width="0.9" />
<text x="45.20" y="305.16" font-size="7.1" fill="#2a2a2a" stroke="#2a2a2a" stroke-width="0.18" text-anchor="end" >6</text>
<line x1="49.40" y1="283.40" x2="52.40" y2="283.40" stroke="#1c1c1c" stroke-width="0.9" />
<text x="45.20" y="285.96" font-size="7.1" fill="#2a2a2a" stroke="#2a2a2a" stroke-width="0.18" text-anchor="end" >8</text>
<line x1="49.40" y1="264.20" x2="52.40" y2="264.20" stroke="#1c1c1c" stroke-width="0.9" />
<text x="45.20" y="266.76" font-size="7.1" fill="#2a2a2a" stroke="#2a2a2a" stroke-width="0.18" text-anchor="end" >10</text>
<line x1="52.40" y1="360.20" x2="52.40" y2="363.20" stroke="#1c1c1c" stroke-width="0.9" />
<text x="52.40" y="373.20" font-size="7.1" fill="#2a2a2a" stroke="#2a2a2a" stroke-width="0.18" text-anchor="middle" >0</text>
<line x1="68.30" y1="360.20" x2="68.30" y2="363.20" stroke="#1c1c1c" stroke-width="0.9" />
<text x="68.30" y="373.20" font-size="7.1" fill="#2a2a2a" stroke="#2a2a2a" stroke-width="0.18" text-anchor="middle" >1</text>
<line x1="84.20" y1="360.20" x2="84.20" y2="363.20" stroke="#1c1c1c" stroke-width="0.9" />
<text x="84.20" y="373.20" font-size="7.1" fill="#2a2a2a" stroke="#2a2a2a" stroke-width="0.18" text-anchor="middle" >2</text>
<line x1="100.10" y1="360.20" x2="100.10" y2="363.20" stroke="#1c1c1c" stroke-width="0.9" />
<text x="100.10" y="373.20" font-size="7.1" fill="#2a2a2a" stroke="#2a2a2a" stroke-width="0.18" text-anchor="middle" >3</text>
<line x1="116.00" y1="360.20" x2="116.00" y2="363.20" stroke="#1c1c1c" stroke-width="0.9" />
<text x="116.00" y="373.20" font-size="7.1" fill="#2a2a2a" stroke="#2a2a2a" stroke-width="0.18" text-anchor="middle" >4</text>
<line x1="52.40" y1="262.50" x2="52.40" y2="360.70" stroke="#1c1c1c" stroke-width="1.1" />
<line x1="51.90" y1="360.20" x2="119.00" y2="360.20" stroke="#1c1c1c" stroke-width="1.1" />
<text x="30.60" y="312.00" font-size="7.9" fill="#1e1e1e" text-anchor="middle" textLength="46.5" lengthAdjust="spacingAndGlyphs" transform="rotate(-90 30.60 312.00)" stroke="#1e1e1e" stroke-width="0.3">WBC (×10<tspan font-size="5" dy="-3">3</tspan><tspan dy="3">/µL)</tspan></text>
<text x="199.00" y="255.60" font-size="9.2" fill="#222" stroke="#222" stroke-width="0.18" text-anchor="middle" textLength="43.8" lengthAdjust="spacingAndGlyphs" >Hematocrit</text>
<line x1="177.10" y1="256.70" x2="220.90" y2="256.70" stroke="#444" stroke-width="0.6" />
<line x1="165.40" y1="299.10" x2="229.50" y2="299.10" stroke="#a7b9a7" stroke-width="1.2" />
<line x1="181.35" y1="289.45" x2="181.35" y2="296.35" stroke="#6dbb6d" stroke-width="0.6" stroke-opacity="0.3"/>
<line x1="180.25" y1="289.45" x2="182.45" y2="289.45" stroke="#6dbb6d" stroke-width="0.6" stroke-opacity="0.3"/>
<line x1="180.25" y1="296.35" x2="182.45" y2="296.35" stroke="#6dbb6d" stroke-width="0.6" stroke-opacity="0.3"/>
<line x1="197.30" y1="291.17" x2="197.30" y2="298.07" stroke="#6dbb6d" stroke-width="0.6" stroke-opacity="0.3"/>
<line x1="196.20" y1="291.17" x2="198.40" y2="291.17" stroke="#6dbb6d" stroke-width="0.6" stroke-opacity="0.3"/>
<line x1="196.20" y1="298.07" x2="198.40" y2="298.07" stroke="#6dbb6d" stroke-width="0.6" stroke-opacity="0.3"/>
<line x1="213.25" y1="289.79" x2="213.25" y2="298.42" stroke="#6dbb6d" stroke-width="0.6" stroke-opacity="0.3"/>
<line x1="212.15" y1="289.79" x2="214.35" y2="289.79" stroke="#6dbb6d" stroke-width="0.6" stroke-opacity="0.3"/>
<line x1="212.15" y1="298.42" x2="214.35" y2="298.42" stroke="#6dbb6d" stroke-width="0.6" stroke-opacity="0.3"/>
<polyline points="165.40,284.96 181.35,292.90 197.30,294.62 213.25,294.11 229.20,293.59" fill="none" stroke="#6dbb6d" stroke-width="0.75" stroke-linejoin="round" />
<path d="M165.40 283.27L167.09 284.96L165.40 286.65L163.71 284.96Z" fill="#3d9c46"/>
<path d="M181.35 291.21L183.04 292.90L181.35 294.58L179.66 292.90Z" fill="#3d9c46"/>
<path d="M197.30 292.94L198.99 294.62L197.30 296.31L195.61 294.62Z" fill="#3d9c46"/>
<path d="M213.25 292.42L214.94 294.11L213.25 295.79L211.56 294.11Z" fill="#3d9c46"/>
<path d="M229.20 291.90L230.89 293.59L229.20 295.27L227.51 293.59Z" fill="#3d9c46"/>
<polyline points="165.40,284.96 181.35,292.90 197.30,279.44 213.25,292.38 229.20,290.48" fill="none" stroke="#93bde0" stroke-width="0.75" stroke-linejoin="round" />
<rect x="164.05" y="283.61" width="2.70" height="2.70" fill="#1c3354"/>
<rect x="180.00" y="291.55" width="2.70" height="2.70" fill="#1c3354"/>
<rect x="195.95" y="278.09" width="2.70" height="2.70" fill="#1c3354"/>
<rect x="211.90" y="291.03" width="2.70" height="2.70" fill="#1c3354"/>
<rect x="227.85" y="289.13" width="2.70" height="2.70" fill="#1c3354"/>
<polyline points="165.40,284.96 181.35,292.90 197.30,274.78 213.25,293.24 229.20,289.62" fill="none" stroke="#385f8a" stroke-width="0.75" stroke-linejoin="round" />
<circle cx="165.40" cy="284.96" r="1.35" fill="#1c3354"/>
<circle cx="181.35" cy="292.90" r="1.35" fill="#1c3354"/>
<circle cx="197.30" cy="274.78" r="1.35" fill="#1c3354"/>
<circle cx="213.25" cy="293.24" r="1.35" fill="#1c3354"/>
<circle cx="229.20" cy="289.62" r="1.35" fill="#1c3354"/>
<line x1="181.35" y1="287.38" x2="181.35" y2="292.55" stroke="#e3909c" stroke-width="0.6" stroke-opacity="0.3"/>
<line x1="180.25" y1="287.38" x2="182.45" y2="287.38" stroke="#e3909c" stroke-width="0.6" stroke-opacity="0.3"/>
<line x1="180.25" y1="292.55" x2="182.45" y2="292.55" stroke="#e3909c" stroke-width="0.6" stroke-opacity="0.3"/>
<line x1="213.25" y1="289.79" x2="213.25" y2="293.24" stroke="#e3909c" stroke-width="0.6" stroke-opacity="0.3"/>
<line x1="212.15" y1="289.79" x2="214.35" y2="289.79" stroke="#e3909c" stroke-width="0.6" stroke-opacity="0.3"/>
<line x1="212.15" y1="293.24" x2="214.35" y2="293.24" stroke="#e3909c" stroke-width="0.6" stroke-opacity="0.3"/>
<polyline points="165.40,284.96 181.35,289.96 197.30,287.03 213.25,291.52 229.20,291.52" fill="none" stroke="#e3909c" stroke-width="0.75" stroke-linejoin="round" />
<rect x="164.05" y="283.61" width="2.70" height="2.70" fill="#a51237"/>
<rect x="180.00" y="288.61" width="2.70" height="2.70" fill="#a51237"/>
<rect x="195.95" y="285.68" width="2.70" height="2.70" fill="#a51237"/>
<rect x="211.90" y="290.17" width="2.70" height="2.70" fill="#a51237"/>
<rect x="227.85" y="290.17" width="2.70" height="2.70" fill="#a51237"/>
<line x1="181.35" y1="292.38" x2="181.35" y2="295.83" stroke="#b8173d" stroke-width="0.6" stroke-opacity="0.3"/>
<line x1="180.25" y1="292.38" x2="182.45" y2="292.38" stroke="#b8173d" stroke-width="0.6" stroke-opacity="0.3"/>
<line x1="180.25" y1="295.83" x2="182.45" y2="295.83" stroke="#b8173d" stroke-width="0.6" stroke-opacity="0.3"/>
<line x1="197.30" y1="283.41" x2="197.30" y2="288.58" stroke="#b8173d" stroke-width="0.6" stroke-opacity="0.3"/>
<line x1="196.20" y1="283.41" x2="198.40" y2="283.41" stroke="#b8173d" stroke-width="0.6" stroke-opacity="0.3"/>
<line x1="196.20" y1="288.58" x2="198.40" y2="288.58" stroke="#b8173d" stroke-width="0.6" stroke-opacity="0.3"/>
<line x1="213.25" y1="290.14" x2="213.25" y2="292.90" stroke="#b8173d" stroke-width="0.6" stroke-opacity="0.3"/>
<line x1="212.15" y1="290.14" x2="214.35" y2="290.14" stroke="#b8173d" stroke-width="0.6" stroke-opacity="0.3"/>
<line x1="212.15" y1="292.90" x2="214.35" y2="292.90" stroke="#b8173d" stroke-width="0.6" stroke-opacity="0.3"/>
<line x1="229.20" y1="287.89" x2="229.20" y2="290.65" stroke="#b8173d" stroke-width="0.6" stroke-opacity="0.3"/>
<line x1="228.10" y1="287.89" x2="230.30" y2="287.89" stroke="#b8173d" stroke-width="0.6" stroke-opacity="0.3"/>
<line x1="228.10" y1="290.65" x2="230.30" y2="290.65" stroke="#b8173d" stroke-width="0.6" stroke-opacity="0.3"/>
<polyline points="165.40,284.96 181.35,294.11 197.30,286.00 213.25,291.52 229.20,289.27" fill="none" stroke="#b8173d" stroke-width="0.75" stroke-linejoin="round" />
<circle cx="165.40" cy="284.96" r="1.35" fill="#a51237"/>
<circle cx="181.35" cy="294.11" r="1.35" fill="#a51237"/>
<circle cx="197.30" cy="286.00" r="1.35" fill="#a51237"/>
<circle cx="213.25" cy="291.52" r="1.35" fill="#a51237"/>
<circle cx="229.20" cy="289.27" r="1.35" fill="#a51237"/>
<line x1="162.40" y1="360.00" x2="165.40" y2="360.00" stroke="#1c1c1c" stroke-width="0.9" />
<text x="158.20" y="362.56" font-size="7.1" fill="#2a2a2a" stroke="#2a2a2a" stroke-width="0.18" text-anchor="end" >0</text>
<line x1="162.40" y1="342.75" x2="165.40" y2="342.75" stroke="#1c1c1c" stroke-width="0.9" />
<text x="158.20" y="345.31" font-size="7.1" fill="#2a2a2a" stroke="#2a2a2a" stroke-width="0.18" text-anchor="end" >10</text>
<line x1="162.40" y1="325.50" x2="165.40" y2="325.50" stroke="#1c1c1c" stroke-width="0.9" />
<text x="158.20" y="328.06" font-size="7.1" fill="#2a2a2a" stroke="#2a2a2a" stroke-width="0.18" text-anchor="end" >20</text>
<line x1="162.40" y1="308.25" x2="165.40" y2="308.25" stroke="#1c1c1c" stroke-width="0.9" />
<text x="158.20" y="310.81" font-size="7.1" fill="#2a2a2a" stroke="#2a2a2a" stroke-width="0.18" text-anchor="end" >30</text>
<line x1="162.40" y1="291.00" x2="165.40" y2="291.00" stroke="#1c1c1c" stroke-width="0.9" />
<text x="158.20" y="293.56" font-size="7.1" fill="#2a2a2a" stroke="#2a2a2a" stroke-width="0.18" text-anchor="end" >40</text>
<line x1="162.40" y1="273.75" x2="165.40" y2="273.75" stroke="#1c1c1c" stroke-width="0.9" />
<text x="158.20" y="276.31" font-size="7.1" fill="#2a2a2a" stroke="#2a2a2a" stroke-width="0.18" text-anchor="end" >50</text>
<line x1="165.40" y1="360.00" x2="165.40" y2="363.00" stroke="#1c1c1c" stroke-width="0.9" />
<text x="165.40" y="373.20" font-size="7.1" fill="#2a2a2a" stroke="#2a2a2a" stroke-width="0.18" text-anchor="middle" >0</text>
<line x1="181.35" y1="360.00" x2="181.35" y2="363.00" stroke="#1c1c1c" stroke-width="0.9" />
<text x="181.35" y="373.20" font-size="7.1" fill="#2a2a2a" stroke="#2a2a2a" stroke-width="0.18" text-anchor="middle" >1</text>
<line x1="197.30" y1="360.00" x2="197.30" y2="363.00" stroke="#1c1c1c" stroke-width="0.9" />
<text x="197.30" y="373.20" font-size="7.1" fill="#2a2a2a" stroke="#2a2a2a" stroke-width="0.18" text-anchor="middle" >2</text>
<line x1="213.25" y1="360.00" x2="213.25" y2="363.00" stroke="#1c1c1c" stroke-width="0.9" />
<text x="213.25" y="373.20" font-size="7.1" fill="#2a2a2a" stroke="#2a2a2a" stroke-width="0.18" text-anchor="middle" >3</text>
<line x1="229.20" y1="360.00" x2="229.20" y2="363.00" stroke="#1c1c1c" stroke-width="0.9" />
<text x="229.20" y="373.20" font-size="7.1" fill="#2a2a2a" stroke="#2a2a2a" stroke-width="0.18" text-anchor="middle" >4</text>
<line x1="165.40" y1="265.00" x2="165.40" y2="360.50" stroke="#1c1c1c" stroke-width="1.1" />
<line x1="164.90" y1="360.00" x2="231.50" y2="360.00" stroke="#1c1c1c" stroke-width="1.1" />
<text x="142.80" y="312.30" font-size="7.9" fill="#1e1e1e" text-anchor="middle" textLength="32.0" lengthAdjust="spacingAndGlyphs" transform="rotate(-90 142.80 312.30)" stroke="#1e1e1e" stroke-width="0.3">Hematocrit</text>
<text x="197.50" y="386.70" font-size="9.5" fill="#1e1e1e" text-anchor="middle" textLength="63" lengthAdjust="spacingAndGlyphs" stroke="#1e1e1e" stroke-width="0.5">Months posttransplant</text>
<text x="322.20" y="255.60" font-size="9.2" fill="#222" stroke="#222" stroke-width="0.18" text-anchor="middle" textLength="33.5" lengthAdjust="spacingAndGlyphs" >Platelets</text>
<line x1="305.45" y1="256.70" x2="338.95" y2="256.70" stroke="#444" stroke-width="0.6" />
<line x1="290.30" y1="325.80" x2="351.50" y2="325.80" stroke="#a0a0a0" stroke-width="1.2" />
<line x1="305.50" y1="291.75" x2="305.50" y2="313.36" stroke="#6dbb6d" stroke-width="0.6" stroke-opacity="0.35"/>
<line x1="304.40" y1="291.75" x2="306.60" y2="291.75" stroke="#6dbb6d" stroke-width="0.6" stroke-opacity="0.35"/>
<line x1="304.40" y1="313.36" x2="306.60" y2="313.36" stroke="#6dbb6d" stroke-width="0.6" stroke-opacity="0.35"/>
<line x1="335.90" y1="295.42" x2="335.90" y2="311.14" stroke="#6dbb6d" stroke-width="0.6" stroke-opacity="0.35"/>
<line x1="334.80" y1="295.42" x2="337.00" y2="295.42" stroke="#6dbb6d" stroke-width="0.6" stroke-opacity="0.35"/>
<line x1="334.80" y1="311.14" x2="337.00" y2="311.14" stroke="#6dbb6d" stroke-width="0.6" stroke-opacity="0.35"/>
<polyline points="290.30,303.74 305.50,302.56 320.70,301.25 335.90,303.28 351.10,294.50" fill="none" stroke="#6dbb6d" stroke-width="0.75" stroke-linejoin="round" />
<path d="M290.30 302.05L291.99 303.74L290.30 305.42L288.61 303.74Z" fill="#3d9c46"/>
<path d="M305.50 300.87L307.19 302.56L305.50 304.24L303.81 302.56Z" fill="#3d9c46"/>
<path d="M320.70 299.56L322.39 301.25L320.70 302.93L319.01 301.25Z" fill="#3d9c46"/>
<path d="M335.90 301.59L337.59 303.28L335.90 304.96L334.21 303.28Z" fill="#3d9c46"/>
<path d="M351.10 292.81L352.79 294.50L351.10 296.19L349.41 294.50Z" fill="#3d9c46"/>
<line x1="320.70" y1="298.30" x2="320.70" y2="306.16" stroke="#93bde0" stroke-width="0.6" stroke-opacity="0.35"/>
<line x1="319.60" y1="298.30" x2="321.80" y2="298.30" stroke="#93bde0" stroke-width="0.6" stroke-opacity="0.35"/>
<line x1="319.60" y1="306.16" x2="321.80" y2="306.16" stroke="#93bde0" stroke-width="0.6" stroke-opacity="0.35"/>
<line x1="351.10" y1="284.28" x2="351.10" y2="289.52" stroke="#93bde0" stroke-width="0.6" stroke-opacity="0.35"/>
<line x1="350.00" y1="284.28" x2="352.20" y2="284.28" stroke="#93bde0" stroke-width="0.6" stroke-opacity="0.35"/>
<line x1="350.00" y1="289.52" x2="352.20" y2="289.52" stroke="#93bde0" stroke-width="0.6" stroke-opacity="0.35"/>
<polyline points="290.30,303.74 305.50,306.68 320.70,302.23 335.90,304.85 351.10,286.90" fill="none" stroke="#93bde0" stroke-width="0.75" stroke-linejoin="round" />
<rect x="288.95" y="302.39" width="2.70" height="2.70" fill="#1c3354"/>
<rect x="304.15" y="305.33" width="2.70" height="2.70" fill="#1c3354"/>
<rect x="319.35" y="300.88" width="2.70" height="2.70" fill="#1c3354"/>
<rect x="334.55" y="303.50" width="2.70" height="2.70" fill="#1c3354"/>
<rect x="349.75" y="285.55" width="2.70" height="2.70" fill="#1c3354"/>
<line x1="305.50" y1="311.07" x2="305.50" y2="316.31" stroke="#385f8a" stroke-width="0.6" stroke-opacity="0.35"/>
<line x1="304.40" y1="311.07" x2="306.60" y2="311.07" stroke="#385f8a" stroke-width="0.6" stroke-opacity="0.35"/>
<line x1="304.40" y1="316.31" x2="306.60" y2="316.31" stroke="#385f8a" stroke-width="0.6" stroke-opacity="0.35"/>
<line x1="320.70" y1="303.21" x2="320.70" y2="311.07" stroke="#385f8a" stroke-width="0.6" stroke-opacity="0.35"/>
<line x1="319.60" y1="303.21" x2="321.80" y2="303.21" stroke="#385f8a" stroke-width="0.6" stroke-opacity="0.35"/>
<line x1="319.60" y1="311.07" x2="321.80" y2="311.07" stroke="#385f8a" stroke-width="0.6" stroke-opacity="0.35"/>
<line x1="335.90" y1="304.52" x2="335.90" y2="309.76" stroke="#385f8a" stroke-width="0.6" stroke-opacity="0.35"/>
<line x1="334.80" y1="304.52" x2="337.00" y2="304.52" stroke="#385f8a" stroke-width="0.6" stroke-opacity="0.35"/>
<line x1="334.80" y1="309.76" x2="337.00" y2="309.76" stroke="#385f8a" stroke-width="0.6" stroke-opacity="0.35"/>
<polyline points="290.30,303.74 305.50,313.69 320.70,307.14 335.90,307.14 351.10,293.39" fill="none" stroke="#385f8a" stroke-width="0.75" stroke-linejoin="round" />
<circle cx="290.30" cy="303.74" r="1.35" fill="#1c3354"/>
<circle cx="305.50" cy="313.69" r="1.35" fill="#1c3354"/>
<circle cx="320.70" cy="307.14" r="1.35" fill="#1c3354"/>
<circle cx="335.90" cy="307.14" r="1.35" fill="#1c3354"/>
<circle cx="351.10" cy="293.39" r="1.35" fill="#1c3354"/>
<polyline points="290.30,303.74 305.50,301.70 320.70,304.00 335.90,304.85 351.10,305.24" fill="none" stroke="#e3909c" stroke-width="0.75" stroke-linejoin="round" />
<rect x="288.95" y="302.39" width="2.70" height="2.70" fill="#a51237"/>
<rect x="304.15" y="300.35" width="2.70" height="2.70" fill="#a51237"/>
<rect x="319.35" y="302.65" width="2.70" height="2.70" fill="#a51237"/>
<rect x="334.55" y="303.50" width="2.70" height="2.70" fill="#a51237"/>
<rect x="349.75" y="303.89" width="2.70" height="2.70" fill="#a51237"/>
<line x1="305.50" y1="299.28" x2="305.50" y2="305.83" stroke="#b8173d" stroke-width="0.6" stroke-opacity="0.35"/>
<line x1="304.40" y1="299.28" x2="306.60" y2="299.28" stroke="#b8173d" stroke-width="0.6" stroke-opacity="0.35"/>
<line x1="304.40" y1="305.83" x2="306.60" y2="305.83" stroke="#b8173d" stroke-width="0.6" stroke-opacity="0.35"/>
<line x1="320.70" y1="297.64" x2="320.70" y2="302.88" stroke="#b8173d" stroke-width="0.6" stroke-opacity="0.35"/>
<line x1="319.60" y1="297.64" x2="321.80" y2="297.64" stroke="#b8173d" stroke-width="0.6" stroke-opacity="0.35"/>
<line x1="319.60" y1="302.88" x2="321.80" y2="302.88" stroke="#b8173d" stroke-width="0.6" stroke-opacity="0.35"/>
<line x1="335.90" y1="301.77" x2="335.90" y2="305.70" stroke="#b8173d" stroke-width="0.6" stroke-opacity="0.35"/>
<line x1="334.80" y1="301.77" x2="337.00" y2="301.77" stroke="#b8173d" stroke-width="0.6" stroke-opacity="0.35"/>
<line x1="334.80" y1="305.70" x2="337.00" y2="305.70" stroke="#b8173d" stroke-width="0.6" stroke-opacity="0.35"/>
<polyline points="290.30,303.74 305.50,302.56 320.70,300.26 335.90,303.74 351.10,289.46" fill="none" stroke="#b8173d" stroke-width="0.75" stroke-linejoin="round" />
<circle cx="290.30" cy="303.74" r="1.35" fill="#a51237"/>
<circle cx="305.50" cy="302.56" r="1.35" fill="#a51237"/>
<circle cx="320.70" cy="300.26" r="1.35" fill="#a51237"/>
<circle cx="335.90" cy="303.74" r="1.35" fill="#a51237"/>
<circle cx="351.10" cy="289.46" r="1.35" fill="#a51237"/>
<line x1="287.30" y1="360.00" x2="290.30" y2="360.00" stroke="#1c1c1c" stroke-width="0.9" />
<text x="283.10" y="362.56" font-size="7.1" fill="#2a2a2a" stroke="#2a2a2a" stroke-width="0.18" text-anchor="end" >0</text>
<line x1="287.30" y1="346.90" x2="290.30" y2="346.90" stroke="#1c1c1c" stroke-width="0.9" />
<text x="283.10" y="349.46" font-size="7.1" fill="#2a2a2a" stroke="#2a2a2a" stroke-width="0.18" text-anchor="end" >200</text>
<line x1="287.30" y1="333.80" x2="290.30" y2="333.80" stroke="#1c1c1c" stroke-width="0.9" />
<text x="283.10" y="336.36" font-size="7.1" fill="#2a2a2a" stroke="#2a2a2a" stroke-width="0.18" text-anchor="end" >400</text>
<line x1="287.30" y1="320.70" x2="290.30" y2="320.70" stroke="#1c1c1c" stroke-width="0.9" />
<text x="283.10" y="323.26" font-size="7.1" fill="#2a2a2a" stroke="#2a2a2a" stroke-width="0.18" text-anchor="end" >600</text>
<line x1="287.30" y1="307.60" x2="290.30" y2="307.60" stroke="#1c1c1c" stroke-width="0.9" />
<text x="283.10" y="310.16" font-size="7.1" fill="#2a2a2a" stroke="#2a2a2a" stroke-width="0.18" text-anchor="end" >800</text>
<line x1="287.30" y1="294.50" x2="290.30" y2="294.50" stroke="#1c1c1c" stroke-width="0.9" />
<text x="283.10" y="297.06" font-size="7.1" fill="#2a2a2a" stroke="#2a2a2a" stroke-width="0.18" text-anchor="end" >1000</text>
<line x1="287.30" y1="281.40" x2="290.30" y2="281.40" stroke="#1c1c1c" stroke-width="0.9" />
<text x="283.10" y="283.96" font-size="7.1" fill="#2a2a2a" stroke="#2a2a2a" stroke-width="0.18" text-anchor="end" >1200</text>
<line x1="287.30" y1="268.30" x2="290.30" y2="268.30" stroke="#1c1c1c" stroke-width="0.9" />
<text x="283.10" y="270.86" font-size="7.1" fill="#2a2a2a" stroke="#2a2a2a" stroke-width="0.18" text-anchor="end" >1400</text>
<line x1="290.30" y1="360.00" x2="290.30" y2="363.00" stroke="#1c1c1c" stroke-width="0.9" />
<text x="290.30" y="373.20" font-size="7.1" fill="#2a2a2a" stroke="#2a2a2a" stroke-width="0.18" text-anchor="middle" >0</text>
<line x1="305.50" y1="360.00" x2="305.50" y2="363.00" stroke="#1c1c1c" stroke-width="0.9" />
<text x="305.50" y="373.20" font-size="7.1" fill="#2a2a2a" stroke="#2a2a2a" stroke-width="0.18" text-anchor="middle" >1</text>
<line x1="320.70" y1="360.00" x2="320.70" y2="363.00" stroke="#1c1c1c" stroke-width="0.9" />
<text x="320.70" y="373.20" font-size="7.1" fill="#2a2a2a" stroke="#2a2a2a" stroke-width="0.18" text-anchor="middle" >2</text>
<line x1="335.90" y1="360.00" x2="335.90" y2="363.00" stroke="#1c1c1c" stroke-width="0.9" />
<text x="335.90" y="373.20" font-size="7.1" fill="#2a2a2a" stroke="#2a2a2a" stroke-width="0.18" text-anchor="middle" >3</text>
<line x1="351.10" y1="360.00" x2="351.10" y2="363.00" stroke="#1c1c1c" stroke-width="0.9" />
<text x="351.10" y="373.20" font-size="7.1" fill="#2a2a2a" stroke="#2a2a2a" stroke-width="0.18" text-anchor="middle" >4</text>
<line x1="290.30" y1="266.00" x2="290.30" y2="360.50" stroke="#1c1c1c" stroke-width="1.1" />
<line x1="289.80" y1="360.00" x2="354.50" y2="360.00" stroke="#1c1c1c" stroke-width="1.1" />
<text x="259.90" y="314.50" font-size="7.9" fill="#1e1e1e" text-anchor="middle" textLength="72" lengthAdjust="spacingAndGlyphs" transform="rotate(-90 259.90 314.50)" stroke="#1e1e1e" stroke-width="0.3">Platelet count (×10<tspan font-size="5" dy="-3">3</tspan><tspan dy="3">/µL)</tspan></text>
<line x1="360.90" y1="290.20" x2="374.50" y2="290.20" stroke="#b8173d" stroke-width="1.0" />
<circle cx="367.70" cy="290.20" r="2.3" fill="#a51237"/>
<text x="377.80" y="292.70" font-size="7.0" fill="#2a2a2a" stroke="#2a2a2a" stroke-width="0.18" textLength="66.8" lengthAdjust="spacingAndGlyphs" >CD45.2-PNU (n = 11)</text>
<line x1="360.90" y1="301.40" x2="374.50" y2="301.40" stroke="#e3909c" stroke-width="1.0" />
<rect x="365.70" y="299.40" width="4.00" height="4.00" fill="#a51237"/>
<text x="377.80" y="303.90" font-size="7.0" fill="#2a2a2a" stroke="#2a2a2a" stroke-width="0.18" textLength="63.0" lengthAdjust="spacingAndGlyphs" >CD45.1-PNU (n = 8)</text>
<line x1="360.90" y1="312.70" x2="374.50" y2="312.70" stroke="#385f8a" stroke-width="1.0" />
<circle cx="367.70" cy="312.70" r="2.3" fill="#1c3354"/>
<text x="377.80" y="315.20" font-size="7.0" fill="#2a2a2a" stroke="#2a2a2a" stroke-width="0.18" textLength="67.0" lengthAdjust="spacingAndGlyphs" >CD45.2-PBD (n = 10)</text>
<line x1="360.90" y1="323.70" x2="374.50" y2="323.70" stroke="#93bde0" stroke-width="1.0" />
<rect x="365.70" y="321.70" width="4.00" height="4.00" fill="#1c3354"/>
<text x="377.80" y="326.20" font-size="7.0" fill="#2a2a2a" stroke="#2a2a2a" stroke-width="0.18" textLength="67.0" lengthAdjust="spacingAndGlyphs" >CD45.1-PBD (n = 10)</text>
<line x1="360.90" y1="334.90" x2="374.50" y2="334.90" stroke="#6dbb6d" stroke-width="1.0" />
<path d="M367.70 332.52L370.07 334.90L367.70 337.27L365.32 334.90Z" fill="#3d9c46"/>
<text x="377.80" y="337.40" font-size="7.0" fill="#2a2a2a" stroke="#2a2a2a" stroke-width="0.18" textLength="55.8" lengthAdjust="spacingAndGlyphs" >Untreated (n = 10)</text>
<text x="7.90" y="415.90" font-size="11" fill="#111" font-weight="bold" stroke="#111" stroke-width="0.35">D</text>
<ellipse cx="60.6" cy="423.5" rx="17.9" ry="16.9" fill="#3ea449" stroke="#245a2a" stroke-width="1.1"/>
<text x="60.60" y="421.80" font-size="7.2" fill="#e6f5e6" stroke="#e6f5e6" stroke-width="0.18" text-anchor="middle" >B6-GFP</text>
<text x="60.60" y="430.50" font-size="7.2" fill="#e6f5e6" stroke="#e6f5e6" stroke-width="0.18" text-anchor="middle" >HSPCs</text>
<text x="59.80" y="449.60" font-size="6.8" fill="#333" stroke="#333" stroke-width="0.18" text-anchor="middle" textLength="51" lengthAdjust="spacingAndGlyphs" >Cultured HSPCs</text>
<text x="59.80" y="458.60" font-size="6.8" fill="#333" stroke="#333" stroke-width="0.18" text-anchor="middle" textLength="63.5" lengthAdjust="spacingAndGlyphs" >enriched by magnetic</text>
<text x="59.80" y="466.60" font-size="6.8" fill="#333" stroke="#333" stroke-width="0.18" text-anchor="middle" >negative selection</text>
<rect x="86.9" y="406.5" width="84.9" height="23" fill="#dcdcdc" stroke="#2e2e2e" stroke-width="0.9"/>
<text x="129.40" y="416.70" font-size="7.0" fill="#333" stroke="#333" stroke-width="0.18" text-anchor="middle" >Disrupt GFP by</text>
<text x="129.40" y="424.80" font-size="7.0" fill="#333" stroke="#333" stroke-width="0.18" text-anchor="middle" >CRISPR-Cas9 editing</text>
<line x1="84.60" y1="435.80" x2="169.00" y2="435.80" stroke="#111" stroke-width="1.2" />
<path d="M167.5 432.5 L174 435.8 L167.5 439.1 Z" fill="#111"/>
<ellipse cx="198.5" cy="425.6" rx="17.9" ry="15.1" fill="#d6ebd6" stroke="#252525" stroke-width="1.2"/>
<text x="198.50" y="418.00" font-size="7.0" fill="#333" stroke="#333" stroke-width="0.18" text-anchor="middle" >Edited</text>
<text x="198.50" y="425.70" font-size="7.0" fill="#333" stroke="#333" stroke-width="0.18" text-anchor="middle" >GFP-</text>
<text x="198.50" y="433.60" font-size="7.0" fill="#333" stroke="#333" stroke-width="0.18" text-anchor="middle" >HSPCs</text>
<path d="M196.6 440.8 Q194.5 447.5 202.5 451.2" fill="none" stroke="#3a6c9e" stroke-width="3.4"/>
<path d="M201.3 447.2 L207.0 452.6 L199.6 454.6 Z" fill="#3a6c9e"/>
<path d="M204.6 459.2 C204.6 451.5 208 446.7 212.6 446.7 C215.5 446.7 217.5 447.3 219.2 448.3 C221.5 439.5 229 434.6 239.5 434.6 C249 434.6 255.4 442 255.4 453.5 L254.6 459.2 Z" fill="#111"/>
<ellipse cx="256.6" cy="453.8" rx="1.3" ry="2.2" fill="none" stroke="#888" stroke-width="0.6"/>
<text x="237.00" y="445.80" font-size="7.0" fill="#e8e8e8" stroke="#e8e8e8" stroke-width="0.18" text-anchor="middle" >B6</text>
<text x="237.00" y="453.60" font-size="7.0" fill="#4caf50" stroke="#4caf50" stroke-width="0.18" text-anchor="middle" >GFP+</text>
<text x="227.80" y="468.80" font-size="6.8" fill="#333" stroke="#333" stroke-width="0.18" text-anchor="middle" textLength="76" lengthAdjust="spacingAndGlyphs" >Transplant edited HSPCs</text>
<text x="227.80" y="478.60" font-size="6.8" fill="#333" stroke="#333" stroke-width="0.18" text-anchor="middle" >into syngeneic GFP<tspan font-size="4" dy="-2.8">+</tspan><tspan dy="2.8"> hosts</tspan></text>
<text x="284.60" y="429.30" font-size="6.8" fill="#333" stroke="#333" stroke-width="0.18" text-anchor="middle" textLength="48.4" lengthAdjust="spacingAndGlyphs" >CD45.2-PBD or</text>
<line x1="262.40" y1="436.20" x2="301.00" y2="436.20" stroke="#111" stroke-width="1.2" />
<path d="M300 432.9 L306.8 436.2 L300 439.5 Z" fill="#111"/>
<text x="284.60" y="447.80" font-size="6.8" fill="#333" stroke="#333" stroke-width="0.18" text-anchor="middle" textLength="40.8" lengthAdjust="spacingAndGlyphs" >CD45.1-PBD</text>
<rect x="318.7" y="420.1" width="82.3" height="32.6" fill="#dcdcdc" stroke="#2e2e2e" stroke-width="0.9"/>
<text x="359.80" y="430.60" font-size="6.8" fill="#333" stroke="#333" stroke-width="0.18" text-anchor="middle" textLength="56.4" lengthAdjust="spacingAndGlyphs" >Monitor conversion</text>
<text x="359.80" y="438.70" font-size="6.8" fill="#333" stroke="#333" stroke-width="0.18" text-anchor="middle" >from GFP<tspan font-size="4" dy="-2.8">+</tspan><tspan dy="2.8"> to GFP-</tspan></text>
<text x="359.80" y="447.00" font-size="6.8" fill="#333" stroke="#333" stroke-width="0.18" text-anchor="middle" >hematopoiesis</text>
<text x="7.80" y="507.40" font-size="11" fill="#111" font-weight="bold" stroke="#111" stroke-width="0.35">E</text>
<text x="87.90" y="506.70" font-size="9.2" fill="#222" stroke="#222" stroke-width="0.18" text-anchor="middle" textLength="28.3" lengthAdjust="spacingAndGlyphs" >Overall</text>
<line x1="73.75" y1="507.80" x2="102.05" y2="507.80" stroke="#444" stroke-width="0.6" />
<line x1="69.30" y1="576.55" x2="69.30" y2="586.23" stroke="#93bde0" stroke-width="0.7" />
<line x1="120.00" y1="597.36" x2="120.00" y2="600.26" stroke="#93bde0" stroke-width="0.7" />
<polyline points="52.40,517.50 69.30,581.39 86.20,592.04 103.10,594.94 120.00,598.81" fill="none" stroke="#93bde0" stroke-width="0.8" stroke-linejoin="round" />
<line x1="69.30" y1="576.55" x2="69.30" y2="584.29" stroke="#5a7a9a" stroke-width="0.6" stroke-opacity="0.7"/>
<line x1="68.30" y1="576.55" x2="70.30" y2="576.55" stroke="#5a7a9a" stroke-width="0.6" stroke-opacity="0.7"/>
<line x1="68.30" y1="584.29" x2="70.30" y2="584.29" stroke="#5a7a9a" stroke-width="0.6" stroke-opacity="0.7"/>
<line x1="86.20" y1="590.78" x2="86.20" y2="592.71" stroke="#5a7a9a" stroke-width="0.6" stroke-opacity="0.7"/>
<line x1="85.20" y1="590.78" x2="87.20" y2="590.78" stroke="#5a7a9a" stroke-width="0.6" stroke-opacity="0.7"/>
<line x1="85.20" y1="592.71" x2="87.20" y2="592.71" stroke="#5a7a9a" stroke-width="0.6" stroke-opacity="0.7"/>
<line x1="103.10" y1="593.29" x2="103.10" y2="596.20" stroke="#5a7a9a" stroke-width="0.6" stroke-opacity="0.7"/>
<line x1="102.10" y1="593.29" x2="104.10" y2="593.29" stroke="#5a7a9a" stroke-width="0.6" stroke-opacity="0.7"/>
<line x1="102.10" y1="596.20" x2="104.10" y2="596.20" stroke="#5a7a9a" stroke-width="0.6" stroke-opacity="0.7"/>
<line x1="120.00" y1="597.07" x2="120.00" y2="599.97" stroke="#5a7a9a" stroke-width="0.6" stroke-opacity="0.7"/>
<line x1="119.00" y1="597.07" x2="121.00" y2="597.07" stroke="#5a7a9a" stroke-width="0.6" stroke-opacity="0.7"/>
<line x1="119.00" y1="599.97" x2="121.00" y2="599.97" stroke="#5a7a9a" stroke-width="0.6" stroke-opacity="0.7"/>
<polyline points="52.40,517.50 69.30,580.42 86.20,591.75 103.10,594.75 120.00,598.52" fill="none" stroke="#30598a" stroke-width="0.85" stroke-linejoin="round" />
<circle cx="52.40" cy="517.50" r="1.4" fill="#1c3354"/>
<circle cx="69.30" cy="580.42" r="1.4" fill="#1c3354"/>
<circle cx="86.20" cy="591.75" r="1.4" fill="#1c3354"/>
<circle cx="103.10" cy="594.75" r="1.4" fill="#1c3354"/>
<circle cx="120.00" cy="598.52" r="1.4" fill="#1c3354"/>
<polyline points="52.40,517.50 69.30,520.40 86.20,522.82 103.10,523.70 120.00,524.18" fill="none" stroke="#6f95bd" stroke-width="0.8" stroke-linejoin="round" />
<circle cx="52.40" cy="517.50" r="1.45" fill="#1c3354"/>
<circle cx="69.30" cy="520.40" r="1.45" fill="#1c3354"/>
<circle cx="86.20" cy="522.82" r="1.45" fill="#1c3354"/>
<circle cx="103.10" cy="523.70" r="1.45" fill="#1c3354"/>
<circle cx="120.00" cy="524.18" r="1.45" fill="#1c3354"/>
<line x1="49.40" y1="614.30" x2="52.40" y2="614.30" stroke="#1c1c1c" stroke-width="0.9" />
<text x="45.20" y="616.86" font-size="7.1" fill="#2a2a2a" stroke="#2a2a2a" stroke-width="0.18" text-anchor="end" >0</text>
<line x1="49.40" y1="604.62" x2="52.40" y2="604.62" stroke="#1c1c1c" stroke-width="0.9" />
<text x="45.20" y="607.18" font-size="7.1" fill="#2a2a2a" stroke="#2a2a2a" stroke-width="0.18" text-anchor="end" >10</text>
<line x1="49.40" y1="594.94" x2="52.40" y2="594.94" stroke="#1c1c1c" stroke-width="0.9" />
<text x="45.20" y="597.50" font-size="7.1" fill="#2a2a2a" stroke="#2a2a2a" stroke-width="0.18" text-anchor="end" >20</text>
<line x1="49.40" y1="585.26" x2="52.40" y2="585.26" stroke="#1c1c1c" stroke-width="0.9" />
<text x="45.20" y="587.82" font-size="7.1" fill="#2a2a2a" stroke="#2a2a2a" stroke-width="0.18" text-anchor="end" >30</text>
<line x1="49.40" y1="575.58" x2="52.40" y2="575.58" stroke="#1c1c1c" stroke-width="0.9" />
<text x="45.20" y="578.14" font-size="7.1" fill="#2a2a2a" stroke="#2a2a2a" stroke-width="0.18" text-anchor="end" >40</text>
<line x1="49.40" y1="565.90" x2="52.40" y2="565.90" stroke="#1c1c1c" stroke-width="0.9" />
<text x="45.20" y="568.46" font-size="7.1" fill="#2a2a2a" stroke="#2a2a2a" stroke-width="0.18" text-anchor="end" >50</text>
<line x1="49.40" y1="556.22" x2="52.40" y2="556.22" stroke="#1c1c1c" stroke-width="0.9" />
<text x="45.20" y="558.78" font-size="7.1" fill="#2a2a2a" stroke="#2a2a2a" stroke-width="0.18" text-anchor="end" >60</text>
<line x1="49.40" y1="546.54" x2="52.40" y2="546.54" stroke="#1c1c1c" stroke-width="0.9" />
<text x="45.20" y="549.10" font-size="7.1" fill="#2a2a2a" stroke="#2a2a2a" stroke-width="0.18" text-anchor="end" >70</text>
<line x1="49.40" y1="536.86" x2="52.40" y2="536.86" stroke="#1c1c1c" stroke-width="0.9" />
<text x="45.20" y="539.42" font-size="7.1" fill="#2a2a2a" stroke="#2a2a2a" stroke-width="0.18" text-anchor="end" >80</text>
<line x1="49.40" y1="527.18" x2="52.40" y2="527.18" stroke="#1c1c1c" stroke-width="0.9" />
<text x="45.20" y="529.74" font-size="7.1" fill="#2a2a2a" stroke="#2a2a2a" stroke-width="0.18" text-anchor="end" >90</text>
<line x1="49.40" y1="517.50" x2="52.40" y2="517.50" stroke="#1c1c1c" stroke-width="0.9" />
<text x="45.20" y="520.06" font-size="7.1" fill="#2a2a2a" stroke="#2a2a2a" stroke-width="0.18" text-anchor="end" >100</text>
<line x1="52.40" y1="614.30" x2="52.40" y2="617.30" stroke="#1c1c1c" stroke-width="0.9" />
<text x="52.40" y="626.90" font-size="7.1" fill="#2a2a2a" stroke="#2a2a2a" stroke-width="0.18" text-anchor="middle" >0</text>
<line x1="69.30" y1="614.30" x2="69.30" y2="617.30" stroke="#1c1c1c" stroke-width="0.9" />
<text x="69.30" y="626.90" font-size="7.1" fill="#2a2a2a" stroke="#2a2a2a" stroke-width="0.18" text-anchor="middle" >1</text>
<line x1="86.20" y1="614.30" x2="86.20" y2="617.30" stroke="#1c1c1c" stroke-width="0.9" />
<text x="86.20" y="626.90" font-size="7.1" fill="#2a2a2a" stroke="#2a2a2a" stroke-width="0.18" text-anchor="middle" >2</text>
<line x1="103.10" y1="614.30" x2="103.10" y2="617.30" stroke="#1c1c1c" stroke-width="0.9" />
<text x="103.10" y="626.90" font-size="7.1" fill="#2a2a2a" stroke="#2a2a2a" stroke-width="0.18" text-anchor="middle" >3</text>
<line x1="120.00" y1="614.30" x2="120.00" y2="617.30" stroke="#1c1c1c" stroke-width="0.9" />
<text x="120.00" y="626.90" font-size="7.1" fill="#2a2a2a" stroke="#2a2a2a" stroke-width="0.18" text-anchor="middle" >4</text>
<line x1="52.40" y1="512.30" x2="52.40" y2="614.80" stroke="#1c1c1c" stroke-width="1.1" />
<line x1="51.90" y1="614.30" x2="122.60" y2="614.30" stroke="#1c1c1c" stroke-width="1.1" />
<text x="26.70" y="566.20" font-size="7.9" fill="#1e1e1e" text-anchor="middle" textLength="75" lengthAdjust="spacingAndGlyphs" transform="rotate(-90 26.70 566.20)" stroke="#1e1e1e" stroke-width="0.3">% Host remaining (GFP<tspan font-size="5" dy="-3">+</tspan><tspan dy="3">)</tspan></text>
<text x="86.40" y="641.00" font-size="9.5" fill="#1e1e1e" text-anchor="middle" textLength="64" lengthAdjust="spacingAndGlyphs" stroke="#1e1e1e" stroke-width="0.5">Months posttransplant</text>
<line x1="73.70" y1="544.20" x2="86.50" y2="544.20" stroke="#385f8a" stroke-width="1.0" />
<circle cx="80.40" cy="544.20" r="2.2" fill="#1c3354"/>
<text x="90.00" y="546.70" font-size="7.0" fill="#2a2a2a" stroke="#2a2a2a" stroke-width="0.18" textLength="40.8" lengthAdjust="spacingAndGlyphs" >CD45.2-PBD</text>
<text x="90.00" y="555.20" font-size="7.0" fill="#2a2a2a" stroke="#2a2a2a" stroke-width="0.18" textLength="20.6" lengthAdjust="spacingAndGlyphs" >(n = 9)</text>
<line x1="73.70" y1="565.20" x2="86.50" y2="565.20" stroke="#93bde0" stroke-width="1.0" />
<rect x="78.40" y="563.20" width="4.00" height="4.00" fill="#1c3354"/>
<text x="90.00" y="567.70" font-size="7.0" fill="#2a2a2a" stroke="#2a2a2a" stroke-width="0.18" textLength="40.8" lengthAdjust="spacingAndGlyphs" >CD45.1-PBD</text>
<text x="90.00" y="576.00" font-size="7.0" fill="#2a2a2a" stroke="#2a2a2a" stroke-width="0.18" textLength="20.6" lengthAdjust="spacingAndGlyphs" >(n = 7)</text>
<line x1="135.90" y1="544.20" x2="135.90" y2="564.80" stroke="#555" stroke-width="1.4" />
<rect x="139.10" y="549.77" width="2.0" height="1.5" fill="#333"/>
<rect x="139.10" y="552.42" width="2.0" height="1.5" fill="#333"/>
<rect x="139.10" y="555.08" width="2.0" height="1.5" fill="#333"/>
<rect x="139.10" y="557.73" width="2.0" height="1.5" fill="#333"/>
<text x="230.70" y="506.70" font-size="9.2" fill="#222" stroke="#222" stroke-width="0.18" text-anchor="middle" textLength="30.7" lengthAdjust="spacingAndGlyphs" >Myeloid</text>
<line x1="215.35" y1="507.80" x2="246.05" y2="507.80" stroke="#444" stroke-width="0.6" />
<line x1="212.20" y1="600.37" x2="212.20" y2="606.22" stroke="#93bde0" stroke-width="0.7" />
<line x1="229.20" y1="600.37" x2="229.20" y2="606.22" stroke="#93bde0" stroke-width="0.7" />
<line x1="246.20" y1="598.43" x2="246.20" y2="606.22" stroke="#93bde0" stroke-width="0.7" />
<line x1="263.20" y1="599.98" x2="263.20" y2="607.78" stroke="#93bde0" stroke-width="0.7" />
<polyline points="195.20,517.00 212.20,603.30 229.20,603.30 246.20,602.32 263.20,603.88" fill="none" stroke="#93bde0" stroke-width="0.8" stroke-linejoin="round" />
<line x1="212.20" y1="601.15" x2="212.20" y2="605.05" stroke="#5a7a9a" stroke-width="0.6" stroke-opacity="0.7"/>
<line x1="211.20" y1="601.15" x2="213.20" y2="601.15" stroke="#5a7a9a" stroke-width="0.6" stroke-opacity="0.7"/>
<line x1="211.20" y1="605.05" x2="213.20" y2="605.05" stroke="#5a7a9a" stroke-width="0.6" stroke-opacity="0.7"/>
<line x1="229.20" y1="600.18" x2="229.20" y2="606.02" stroke="#5a7a9a" stroke-width="0.6" stroke-opacity="0.7"/>
<line x1="228.20" y1="600.18" x2="230.20" y2="600.18" stroke="#5a7a9a" stroke-width="0.6" stroke-opacity="0.7"/>
<line x1="228.20" y1="606.02" x2="230.20" y2="606.02" stroke="#5a7a9a" stroke-width="0.6" stroke-opacity="0.7"/>
<line x1="246.20" y1="599.11" x2="246.20" y2="604.95" stroke="#5a7a9a" stroke-width="0.6" stroke-opacity="0.7"/>
<line x1="245.20" y1="599.11" x2="247.20" y2="599.11" stroke="#5a7a9a" stroke-width="0.6" stroke-opacity="0.7"/>
<line x1="245.20" y1="604.95" x2="247.20" y2="604.95" stroke="#5a7a9a" stroke-width="0.6" stroke-opacity="0.7"/>
<line x1="263.20" y1="600.76" x2="263.20" y2="606.61" stroke="#5a7a9a" stroke-width="0.6" stroke-opacity="0.7"/>
<line x1="262.20" y1="600.76" x2="264.20" y2="600.76" stroke="#5a7a9a" stroke-width="0.6" stroke-opacity="0.7"/>
<line x1="262.20" y1="606.61" x2="264.20" y2="606.61" stroke="#5a7a9a" stroke-width="0.6" stroke-opacity="0.7"/>
<polyline points="195.20,517.00 212.20,603.10 229.20,603.10 246.20,602.03 263.20,603.69" fill="none" stroke="#30598a" stroke-width="0.85" stroke-linejoin="round" />
<circle cx="195.20" cy="517.00" r="1.4" fill="#1c3354"/>
<circle cx="212.20" cy="603.10" r="1.4" fill="#1c3354"/>
<circle cx="229.20" cy="603.10" r="1.4" fill="#1c3354"/>
<circle cx="246.20" cy="602.03" r="1.4" fill="#1c3354"/>
<circle cx="263.20" cy="603.69" r="1.4" fill="#1c3354"/>
<polyline points="195.20,517.00 212.20,528.20 229.20,529.66 246.20,529.66 263.20,528.98" fill="none" stroke="#6f95bd" stroke-width="0.8" stroke-linejoin="round" />
<circle cx="195.20" cy="517.00" r="1.45" fill="#1c3354"/>
<circle cx="212.20" cy="528.20" r="1.45" fill="#1c3354"/>
<circle cx="229.20" cy="529.66" r="1.45" fill="#1c3354"/>
<circle cx="246.20" cy="529.66" r="1.45" fill="#1c3354"/>
<circle cx="263.20" cy="528.98" r="1.45" fill="#1c3354"/>
<line x1="192.20" y1="614.40" x2="195.20" y2="614.40" stroke="#1c1c1c" stroke-width="0.9" />
<text x="188.00" y="616.96" font-size="7.1" fill="#2a2a2a" stroke="#2a2a2a" stroke-width="0.18" text-anchor="end" >0</text>
<line x1="192.20" y1="604.66" x2="195.20" y2="604.66" stroke="#1c1c1c" stroke-width="0.9" />
<text x="188.00" y="607.22" font-size="7.1" fill="#2a2a2a" stroke="#2a2a2a" stroke-width="0.18" text-anchor="end" >10</text>
<line x1="192.20" y1="594.92" x2="195.20" y2="594.92" stroke="#1c1c1c" stroke-width="0.9" />
<text x="188.00" y="597.48" font-size="7.1" fill="#2a2a2a" stroke="#2a2a2a" stroke-width="0.18" text-anchor="end" >20</text>
<line x1="192.20" y1="585.18" x2="195.20" y2="585.18" stroke="#1c1c1c" stroke-width="0.9" />
<text x="188.00" y="587.74" font-size="7.1" fill="#2a2a2a" stroke="#2a2a2a" stroke-width="0.18" text-anchor="end" >30</text>
<line x1="192.20" y1="575.44" x2="195.20" y2="575.44" stroke="#1c1c1c" stroke-width="0.9" />
<text x="188.00" y="578.00" font-size="7.1" fill="#2a2a2a" stroke="#2a2a2a" stroke-width="0.18" text-anchor="end" >40</text>
<line x1="192.20" y1="565.70" x2="195.20" y2="565.70" stroke="#1c1c1c" stroke-width="0.9" />
<text x="188.00" y="568.26" font-size="7.1" fill="#2a2a2a" stroke="#2a2a2a" stroke-width="0.18" text-anchor="end" >50</text>
<line x1="192.20" y1="555.96" x2="195.20" y2="555.96" stroke="#1c1c1c" stroke-width="0.9" />
<text x="188.00" y="558.52" font-size="7.1" fill="#2a2a2a" stroke="#2a2a2a" stroke-width="0.18" text-anchor="end" >60</text>
<line x1="192.20" y1="546.22" x2="195.20" y2="546.22" stroke="#1c1c1c" stroke-width="0.9" />
<text x="188.00" y="548.78" font-size="7.1" fill="#2a2a2a" stroke="#2a2a2a" stroke-width="0.18" text-anchor="end" >70</text>
<line x1="192.20" y1="536.48" x2="195.20" y2="536.48" stroke="#1c1c1c" stroke-width="0.9" />
<text x="188.00" y="539.04" font-size="7.1" fill="#2a2a2a" stroke="#2a2a2a" stroke-width="0.18" text-anchor="end" >80</text>
<line x1="192.20" y1="526.74" x2="195.20" y2="526.74" stroke="#1c1c1c" stroke-width="0.9" />
<text x="188.00" y="529.30" font-size="7.1" fill="#2a2a2a" stroke="#2a2a2a" stroke-width="0.18" text-anchor="end" >90</text>
<line x1="192.20" y1="517.00" x2="195.20" y2="517.00" stroke="#1c1c1c" stroke-width="0.9" />
<text x="188.00" y="519.56" font-size="7.1" fill="#2a2a2a" stroke="#2a2a2a" stroke-width="0.18" text-anchor="end" >100</text>
<line x1="195.20" y1="614.40" x2="195.20" y2="617.40" stroke="#1c1c1c" stroke-width="0.9" />
<text x="195.20" y="626.90" font-size="7.1" fill="#2a2a2a" stroke="#2a2a2a" stroke-width="0.18" text-anchor="middle" >0</text>
<line x1="212.20" y1="614.40" x2="212.20" y2="617.40" stroke="#1c1c1c" stroke-width="0.9" />
<text x="212.20" y="626.90" font-size="7.1" fill="#2a2a2a" stroke="#2a2a2a" stroke-width="0.18" text-anchor="middle" >1</text>
<line x1="229.20" y1="614.40" x2="229.20" y2="617.40" stroke="#1c1c1c" stroke-width="0.9" />
<text x="229.20" y="626.90" font-size="7.1" fill="#2a2a2a" stroke="#2a2a2a" stroke-width="0.18" text-anchor="middle" >2</text>
<line x1="246.20" y1="614.40" x2="246.20" y2="617.40" stroke="#1c1c1c" stroke-width="0.9" />
<text x="246.20" y="626.90" font-size="7.1" fill="#2a2a2a" stroke="#2a2a2a" stroke-width="0.18" text-anchor="middle" >3</text>
<line x1="263.20" y1="614.40" x2="263.20" y2="617.40" stroke="#1c1c1c" stroke-width="0.9" />
<text x="263.20" y="626.90" font-size="7.1" fill="#2a2a2a" stroke="#2a2a2a" stroke-width="0.18" text-anchor="middle" >4</text>
<line x1="195.20" y1="513.00" x2="195.20" y2="614.90" stroke="#1c1c1c" stroke-width="1.1" />
<line x1="194.70" y1="614.40" x2="265.50" y2="614.40" stroke="#1c1c1c" stroke-width="1.1" />
<text x="169.80" y="564.70" font-size="7.9" fill="#1e1e1e" text-anchor="middle" textLength="74" lengthAdjust="spacingAndGlyphs" transform="rotate(-90 169.80 564.70)" stroke="#1e1e1e" stroke-width="0.3">% Host remaining (GFP<tspan font-size="5" dy="-3">+</tspan><tspan dy="3">)</tspan></text>
<text x="348.20" y="506.70" font-size="9.2" fill="#222" stroke="#222" stroke-width="0.18" text-anchor="middle" textLength="26.1" lengthAdjust="spacingAndGlyphs" >B cells</text>
<line x1="335.15" y1="507.80" x2="361.25" y2="507.80" stroke="#444" stroke-width="0.6" />
<line x1="329.70" y1="587.13" x2="329.70" y2="592.97" stroke="#93bde0" stroke-width="0.7" />
<polyline points="312.80,517.00 329.70,590.05 346.60,603.69 363.50,605.44 380.40,606.80" fill="none" stroke="#93bde0" stroke-width="0.8" stroke-linejoin="round" />
<line x1="329.70" y1="587.13" x2="329.70" y2="592.00" stroke="#5a7a9a" stroke-width="0.6" stroke-opacity="0.7"/>
<line x1="328.70" y1="587.13" x2="330.70" y2="587.13" stroke="#5a7a9a" stroke-width="0.6" stroke-opacity="0.7"/>
<line x1="328.70" y1="592.00" x2="330.70" y2="592.00" stroke="#5a7a9a" stroke-width="0.6" stroke-opacity="0.7"/>
<line x1="346.60" y1="602.61" x2="346.60" y2="604.56" stroke="#5a7a9a" stroke-width="0.6" stroke-opacity="0.7"/>
<line x1="345.60" y1="602.61" x2="347.60" y2="602.61" stroke="#5a7a9a" stroke-width="0.6" stroke-opacity="0.7"/>
<line x1="345.60" y1="604.56" x2="347.60" y2="604.56" stroke="#5a7a9a" stroke-width="0.6" stroke-opacity="0.7"/>
<line x1="363.50" y1="604.27" x2="363.50" y2="606.22" stroke="#5a7a9a" stroke-width="0.6" stroke-opacity="0.7"/>
<line x1="362.50" y1="604.27" x2="364.50" y2="604.27" stroke="#5a7a9a" stroke-width="0.6" stroke-opacity="0.7"/>
<line x1="362.50" y1="606.22" x2="364.50" y2="606.22" stroke="#5a7a9a" stroke-width="0.6" stroke-opacity="0.7"/>
<line x1="380.40" y1="605.63" x2="380.40" y2="607.58" stroke="#5a7a9a" stroke-width="0.6" stroke-opacity="0.7"/>
<line x1="379.40" y1="605.63" x2="381.40" y2="605.63" stroke="#5a7a9a" stroke-width="0.6" stroke-opacity="0.7"/>
<line x1="379.40" y1="607.58" x2="381.40" y2="607.58" stroke="#5a7a9a" stroke-width="0.6" stroke-opacity="0.7"/>
<polyline points="312.80,517.00 329.70,589.56 346.60,603.59 363.50,605.24 380.40,606.61" fill="none" stroke="#30598a" stroke-width="0.85" stroke-linejoin="round" />
<circle cx="312.80" cy="517.00" r="1.4" fill="#1c3354"/>
<circle cx="329.70" cy="589.56" r="1.4" fill="#1c3354"/>
<circle cx="346.60" cy="603.59" r="1.4" fill="#1c3354"/>
<circle cx="363.50" cy="605.24" r="1.4" fill="#1c3354"/>
<circle cx="380.40" cy="606.61" r="1.4" fill="#1c3354"/>
<polyline points="312.80,517.00 329.70,517.68 346.60,520.70 363.50,521.97 380.40,522.84" fill="none" stroke="#6f95bd" stroke-width="0.8" stroke-linejoin="round" />
<circle cx="312.80" cy="517.00" r="1.45" fill="#1c3354"/>
<circle cx="329.70" cy="517.68" r="1.45" fill="#1c3354"/>
<circle cx="346.60" cy="520.70" r="1.45" fill="#1c3354"/>
<circle cx="363.50" cy="521.97" r="1.45" fill="#1c3354"/>
<circle cx="380.40" cy="522.84" r="1.45" fill="#1c3354"/>
<line x1="309.80" y1="614.40" x2="312.80" y2="614.40" stroke="#1c1c1c" stroke-width="0.9" />
<text x="305.60" y="616.96" font-size="7.1" fill="#2a2a2a" stroke="#2a2a2a" stroke-width="0.18" text-anchor="end" >0</text>
<line x1="309.80" y1="604.66" x2="312.80" y2="604.66" stroke="#1c1c1c" stroke-width="0.9" />
<text x="305.60" y="607.22" font-size="7.1" fill="#2a2a2a" stroke="#2a2a2a" stroke-width="0.18" text-anchor="end" >10</text>
<line x1="309.80" y1="594.92" x2="312.80" y2="594.92" stroke="#1c1c1c" stroke-width="0.9" />
<text x="305.60" y="597.48" font-size="7.1" fill="#2a2a2a" stroke="#2a2a2a" stroke-width="0.18" text-anchor="end" >20</text>
<line x1="309.80" y1="585.18" x2="312.80" y2="585.18" stroke="#1c1c1c" stroke-width="0.9" />
<text x="305.60" y="587.74" font-size="7.1" fill="#2a2a2a" stroke="#2a2a2a" stroke-width="0.18" text-anchor="end" >30</text>
<line x1="309.80" y1="575.44" x2="312.80" y2="575.44" stroke="#1c1c1c" stroke-width="0.9" />
<text x="305.60" y="578.00" font-size="7.1" fill="#2a2a2a" stroke="#2a2a2a" stroke-width="0.18" text-anchor="end" >40</text>
<line x1="309.80" y1="565.70" x2="312.80" y2="565.70" stroke="#1c1c1c" stroke-width="0.9" />
<text x="305.60" y="568.26" font-size="7.1" fill="#2a2a2a" stroke="#2a2a2a" stroke-width="0.18" text-anchor="end" >50</text>
<line x1="309.80" y1="555.96" x2="312.80" y2="555.96" stroke="#1c1c1c" stroke-width="0.9" />
<text x="305.60" y="558.52" font-size="7.1" fill="#2a2a2a" stroke="#2a2a2a" stroke-width="0.18" text-anchor="end" >60</text>
<line x1="309.80" y1="546.22" x2="312.80" y2="546.22" stroke="#1c1c1c" stroke-width="0.9" />
<text x="305.60" y="548.78" font-size="7.1" fill="#2a2a2a" stroke="#2a2a2a" stroke-width="0.18" text-anchor="end" >70</text>
<line x1="309.80" y1="536.48" x2="312.80" y2="536.48" stroke="#1c1c1c" stroke-width="0.9" />
<text x="305.60" y="539.04" font-size="7.1" fill="#2a2a2a" stroke="#2a2a2a" stroke-width="0.18" text-anchor="end" >80</text>
<line x1="309.80" y1="526.74" x2="312.80" y2="526.74" stroke="#1c1c1c" stroke-width="0.9" />
<text x="305.60" y="529.30" font-size="7.1" fill="#2a2a2a" stroke="#2a2a2a" stroke-width="0.18" text-anchor="end" >90</text>
<line x1="309.80" y1="517.00" x2="312.80" y2="517.00" stroke="#1c1c1c" stroke-width="0.9" />
<text x="305.60" y="519.56" font-size="7.1" fill="#2a2a2a" stroke="#2a2a2a" stroke-width="0.18" text-anchor="end" >100</text>
<line x1="312.80" y1="614.40" x2="312.80" y2="617.40" stroke="#1c1c1c" stroke-width="0.9" />
<text x="312.80" y="626.90" font-size="7.1" fill="#2a2a2a" stroke="#2a2a2a" stroke-width="0.18" text-anchor="middle" >0</text>
<line x1="329.70" y1="614.40" x2="329.70" y2="617.40" stroke="#1c1c1c" stroke-width="0.9" />
<text x="329.70" y="626.90" font-size="7.1" fill="#2a2a2a" stroke="#2a2a2a" stroke-width="0.18" text-anchor="middle" >1</text>
<line x1="346.60" y1="614.40" x2="346.60" y2="617.40" stroke="#1c1c1c" stroke-width="0.9" />
<text x="346.60" y="626.90" font-size="7.1" fill="#2a2a2a" stroke="#2a2a2a" stroke-width="0.18" text-anchor="middle" >2</text>
<line x1="363.50" y1="614.40" x2="363.50" y2="617.40" stroke="#1c1c1c" stroke-width="0.9" />
<text x="363.50" y="626.90" font-size="7.1" fill="#2a2a2a" stroke="#2a2a2a" stroke-width="0.18" text-anchor="middle" >3</text>
<line x1="380.40" y1="614.40" x2="380.40" y2="617.40" stroke="#1c1c1c" stroke-width="0.9" />
<text x="380.40" y="626.90" font-size="7.1" fill="#2a2a2a" stroke="#2a2a2a" stroke-width="0.18" text-anchor="middle" >4</text>
<line x1="312.80" y1="513.00" x2="312.80" y2="614.90" stroke="#1c1c1c" stroke-width="1.1" />
<line x1="312.30" y1="614.40" x2="383.00" y2="614.40" stroke="#1c1c1c" stroke-width="1.1" />
<text x="288.20" y="564.70" font-size="7.9" fill="#1e1e1e" text-anchor="middle" textLength="74" lengthAdjust="spacingAndGlyphs" transform="rotate(-90 288.20 564.70)" stroke="#1e1e1e" stroke-width="0.3">% Host remaining (GFP<tspan font-size="5" dy="-3">+</tspan><tspan dy="3">)</tspan></text>
<text x="348.50" y="639.80" font-size="9.5" fill="#1e1e1e" text-anchor="middle" textLength="63.3" lengthAdjust="spacingAndGlyphs" stroke="#1e1e1e" stroke-width="0.5">Months posttransplant</text>
<text x="466.00" y="506.70" font-size="9.2" fill="#222" stroke="#222" stroke-width="0.18" text-anchor="middle" textLength="25.5" lengthAdjust="spacingAndGlyphs" >T cells</text>
<line x1="453.25" y1="507.80" x2="478.75" y2="507.80" stroke="#444" stroke-width="0.6" />
<polyline points="430.20,517.20 447.15,524.67 464.10,561.82 481.05,575.79 498.00,581.12" fill="none" stroke="#93bde0" stroke-width="0.8" stroke-linejoin="round" />
<line x1="447.15" y1="522.34" x2="447.15" y2="526.22" stroke="#5a7a9a" stroke-width="0.6" stroke-opacity="0.7"/>
<line x1="446.15" y1="522.34" x2="448.15" y2="522.34" stroke="#5a7a9a" stroke-width="0.6" stroke-opacity="0.7"/>
<line x1="446.15" y1="526.22" x2="448.15" y2="526.22" stroke="#5a7a9a" stroke-width="0.6" stroke-opacity="0.7"/>
<line x1="464.10" y1="559.98" x2="464.10" y2="562.89" stroke="#5a7a9a" stroke-width="0.6" stroke-opacity="0.7"/>
<line x1="463.10" y1="559.98" x2="465.10" y2="559.98" stroke="#5a7a9a" stroke-width="0.6" stroke-opacity="0.7"/>
<line x1="463.10" y1="562.89" x2="465.10" y2="562.89" stroke="#5a7a9a" stroke-width="0.6" stroke-opacity="0.7"/>
<line x1="481.05" y1="573.95" x2="481.05" y2="576.86" stroke="#5a7a9a" stroke-width="0.6" stroke-opacity="0.7"/>
<line x1="480.05" y1="573.95" x2="482.05" y2="573.95" stroke="#5a7a9a" stroke-width="0.6" stroke-opacity="0.7"/>
<line x1="480.05" y1="576.86" x2="482.05" y2="576.86" stroke="#5a7a9a" stroke-width="0.6" stroke-opacity="0.7"/>
<line x1="498.00" y1="578.31" x2="498.00" y2="583.16" stroke="#5a7a9a" stroke-width="0.6" stroke-opacity="0.7"/>
<line x1="497.00" y1="578.31" x2="499.00" y2="578.31" stroke="#5a7a9a" stroke-width="0.6" stroke-opacity="0.7"/>
<line x1="497.00" y1="583.16" x2="499.00" y2="583.16" stroke="#5a7a9a" stroke-width="0.6" stroke-opacity="0.7"/>
<polyline points="430.20,517.20 447.15,524.28 464.10,561.43 481.05,575.40 498.00,580.74" fill="none" stroke="#30598a" stroke-width="0.85" stroke-linejoin="round" />
<circle cx="430.20" cy="517.20" r="1.4" fill="#1c3354"/>
<circle cx="447.15" cy="524.28" r="1.4" fill="#1c3354"/>
<circle cx="464.10" cy="561.43" r="1.4" fill="#1c3354"/>
<circle cx="481.05" cy="575.40" r="1.4" fill="#1c3354"/>
<circle cx="498.00" cy="580.74" r="1.4" fill="#1c3354"/>
<polyline points="430.20,517.20 447.15,518.36 464.10,518.56 481.05,521.47 498.00,521.66" fill="none" stroke="#6f95bd" stroke-width="0.8" stroke-linejoin="round" />
<circle cx="430.20" cy="517.20" r="1.45" fill="#1c3354"/>
<circle cx="447.15" cy="518.36" r="1.45" fill="#1c3354"/>
<circle cx="464.10" cy="518.56" r="1.45" fill="#1c3354"/>
<circle cx="481.05" cy="521.47" r="1.45" fill="#1c3354"/>
<circle cx="498.00" cy="521.66" r="1.45" fill="#1c3354"/>
<line x1="427.20" y1="614.20" x2="430.20" y2="614.20" stroke="#1c1c1c" stroke-width="0.9" />
<text x="423.00" y="616.76" font-size="7.1" fill="#2a2a2a" stroke="#2a2a2a" stroke-width="0.18" text-anchor="end" >0</text>
<line x1="427.20" y1="604.50" x2="430.20" y2="604.50" stroke="#1c1c1c" stroke-width="0.9" />
<text x="423.00" y="607.06" font-size="7.1" fill="#2a2a2a" stroke="#2a2a2a" stroke-width="0.18" text-anchor="end" >10</text>
<line x1="427.20" y1="594.80" x2="430.20" y2="594.80" stroke="#1c1c1c" stroke-width="0.9" />
<text x="423.00" y="597.36" font-size="7.1" fill="#2a2a2a" stroke="#2a2a2a" stroke-width="0.18" text-anchor="end" >20</text>
<line x1="427.20" y1="585.10" x2="430.20" y2="585.10" stroke="#1c1c1c" stroke-width="0.9" />
<text x="423.00" y="587.66" font-size="7.1" fill="#2a2a2a" stroke="#2a2a2a" stroke-width="0.18" text-anchor="end" >30</text>
<line x1="427.20" y1="575.40" x2="430.20" y2="575.40" stroke="#1c1c1c" stroke-width="0.9" />
<text x="423.00" y="577.96" font-size="7.1" fill="#2a2a2a" stroke="#2a2a2a" stroke-width="0.18" text-anchor="end" >40</text>
<line x1="427.20" y1="565.70" x2="430.20" y2="565.70" stroke="#1c1c1c" stroke-width="0.9" />
<text x="423.00" y="568.26" font-size="7.1" fill="#2a2a2a" stroke="#2a2a2a" stroke-width="0.18" text-anchor="end" >50</text>
<line x1="427.20" y1="556.00" x2="430.20" y2="556.00" stroke="#1c1c1c" stroke-width="0.9" />
<text x="423.00" y="558.56" font-size="7.1" fill="#2a2a2a" stroke="#2a2a2a" stroke-width="0.18" text-anchor="end" >60</text>
<line x1="427.20" y1="546.30" x2="430.20" y2="546.30" stroke="#1c1c1c" stroke-width="0.9" />
<text x="423.00" y="548.86" font-size="7.1" fill="#2a2a2a" stroke="#2a2a2a" stroke-width="0.18" text-anchor="end" >70</text>
<line x1="427.20" y1="536.60" x2="430.20" y2="536.60" stroke="#1c1c1c" stroke-width="0.9" />
<text x="423.00" y="539.16" font-size="7.1" fill="#2a2a2a" stroke="#2a2a2a" stroke-width="0.18" text-anchor="end" >80</text>
<line x1="427.20" y1="526.90" x2="430.20" y2="526.90" stroke="#1c1c1c" stroke-width="0.9" />
<text x="423.00" y="529.46" font-size="7.1" fill="#2a2a2a" stroke="#2a2a2a" stroke-width="0.18" text-anchor="end" >90</text>
<line x1="427.20" y1="517.20" x2="430.20" y2="517.20" stroke="#1c1c1c" stroke-width="0.9" />
<text x="423.00" y="519.76" font-size="7.1" fill="#2a2a2a" stroke="#2a2a2a" stroke-width="0.18" text-anchor="end" >100</text>
<line x1="430.20" y1="614.20" x2="430.20" y2="617.20" stroke="#1c1c1c" stroke-width="0.9" />
<text x="430.20" y="626.90" font-size="7.1" fill="#2a2a2a" stroke="#2a2a2a" stroke-width="0.18" text-anchor="middle" >0</text>
<line x1="447.15" y1="614.20" x2="447.15" y2="617.20" stroke="#1c1c1c" stroke-width="0.9" />
<text x="447.15" y="626.90" font-size="7.1" fill="#2a2a2a" stroke="#2a2a2a" stroke-width="0.18" text-anchor="middle" >1</text>
<line x1="464.10" y1="614.20" x2="464.10" y2="617.20" stroke="#1c1c1c" stroke-width="0.9" />
<text x="464.10" y="626.90" font-size="7.1" fill="#2a2a2a" stroke="#2a2a2a" stroke-width="0.18" text-anchor="middle" >2</text>
<line x1="481.05" y1="614.20" x2="481.05" y2="617.20" stroke="#1c1c1c" stroke-width="0.9" />
<text x="481.05" y="626.90" font-size="7.1" fill="#2a2a2a" stroke="#2a2a2a" stroke-width="0.18" text-anchor="middle" >3</text>
<line x1="498.00" y1="614.20" x2="498.00" y2="617.20" stroke="#1c1c1c" stroke-width="0.9" />
<text x="498.00" y="626.90" font-size="7.1" fill="#2a2a2a" stroke="#2a2a2a" stroke-width="0.18" text-anchor="middle" >4</text>
<line x1="430.20" y1="512.50" x2="430.20" y2="614.70" stroke="#1c1c1c" stroke-width="1.1" />
<line x1="429.70" y1="614.20" x2="501.00" y2="614.20" stroke="#1c1c1c" stroke-width="1.1" />
<text x="405.30" y="564.70" font-size="7.9" fill="#1e1e1e" text-anchor="middle" textLength="74" lengthAdjust="spacingAndGlyphs" transform="rotate(-90 405.30 564.70)" stroke="#1e1e1e" stroke-width="0.3">% Host remaining (GFP<tspan font-size="5" dy="-3">+</tspan><tspan dy="3">)</tspan></text>
<rect x="0" y="0" width="520" height="1" fill="#4a4a4a"/><rect x="0" y="0" width="1" height="651" fill="#555"/><rect x="519" y="0" width="1" height="651" fill="#444"/><rect x="0" y="650" width="520" height="1" fill="#444"/>
</svg></body></html>
